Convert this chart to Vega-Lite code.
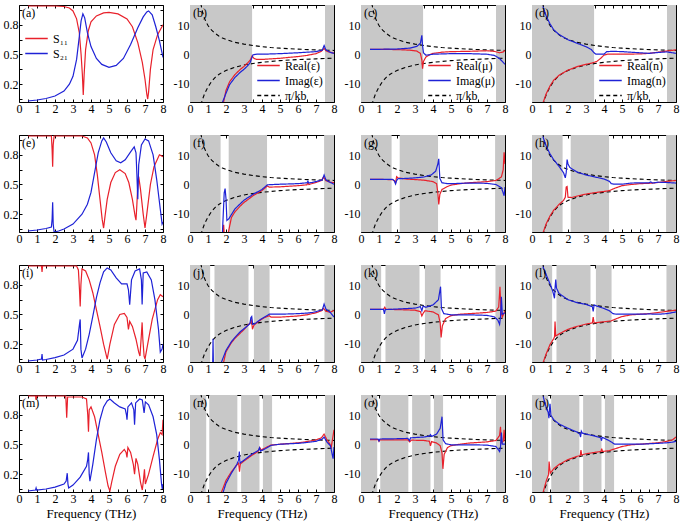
{
"$schema":"https://vega.github.io/schema/vega-lite/v6.json",
"background":"white",
"padding":{"left":2,"top":3,"right":4,"bottom":4},
"datasets":{
"bands":[
{"r":1,"x0":0,"x1":3.45},{"r":1,"x0":7.5,"x1":8},
{"r":2,"x0":0,"x1":1.7},{"r":2,"x0":2.15,"x1":4.28},{"r":2,"x0":7.45,"x1":8},
{"r":3,"x0":0,"x1":1.12},{"r":3,"x0":1.36,"x1":3.25},{"r":3,"x0":3.55,"x1":4.42},{"r":3,"x0":7.47,"x1":8},
{"r":4,"x0":0,"x1":0.9},{"r":4,"x0":1.07,"x1":2.63},{"r":4,"x0":2.84,"x1":3.86},{"r":4,"x0":4.05,"x1":4.56},{"r":4,"x0":7.5,"x1":8}
],
"pk":[
{"k":"P","b":"u","x":0.6,"y":17.5},{"k":"P","b":"u","x":0.7,"y":14.5},{"k":"P","b":"u","x":0.8,"y":12.5},{"k":"P","b":"u","x":0.9,"y":11},{"k":"P","b":"u","x":1,"y":9.9},{"k":"P","b":"u","x":1.2,"y":8.3},{"k":"P","b":"u","x":1.4,"y":7.2},{"k":"P","b":"u","x":1.6,"y":6.3},{"k":"P","b":"u","x":1.8,"y":5.6},{"k":"P","b":"u","x":2,"y":5.1},{"k":"P","b":"u","x":2.5,"y":4.1},{"k":"P","b":"u","x":3,"y":3.5},{"k":"P","b":"u","x":3.5,"y":3},{"k":"P","b":"u","x":4,"y":2.6},{"k":"P","b":"u","x":4.5,"y":2.3},{"k":"P","b":"u","x":5,"y":2.1},{"k":"P","b":"u","x":6,"y":1.75},{"k":"P","b":"u","x":7,"y":1.5},{"k":"P","b":"u","x":8,"y":1.3},
{"k":"P","b":"l","x":0.6,"y":-17.5},{"k":"P","b":"l","x":0.7,"y":-15.5},{"k":"P","b":"l","x":0.8,"y":-13.8},{"k":"P","b":"l","x":0.9,"y":-12.5},{"k":"P","b":"l","x":1,"y":-11.3},{"k":"P","b":"l","x":1.2,"y":-9.4},{"k":"P","b":"l","x":1.4,"y":-8},{"k":"P","b":"l","x":1.6,"y":-7},{"k":"P","b":"l","x":1.8,"y":-6.2},{"k":"P","b":"l","x":2,"y":-5.6},{"k":"P","b":"l","x":2.5,"y":-4.5},{"k":"P","b":"l","x":3,"y":-3.7},{"k":"P","b":"l","x":3.5,"y":-3.2},{"k":"P","b":"l","x":4,"y":-2.8},{"k":"P","b":"l","x":4.5,"y":-2.5},{"k":"P","b":"l","x":5,"y":-2.2},{"k":"P","b":"l","x":6,"y":-1.85},{"k":"P","b":"l","x":7,"y":-1.6},{"k":"P","b":"l","x":8,"y":-1.35}
],
"s":[
{"p":"a","k":"S11","x":0.5,"y":0.99},{"p":"a","k":"S11","x":1,"y":0.99},{"p":"a","k":"S11","x":2,"y":0.99},{"p":"a","k":"S11","x":2.5,"y":0.985},{"p":"a","k":"S11","x":2.8,"y":0.97},{"p":"a","k":"S11","x":3.0,"y":0.94},{"p":"a","k":"S11","x":3.2,"y":0.86},{"p":"a","k":"S11","x":3.35,"y":0.72},{"p":"a","k":"S11","x":3.45,"y":0.5},{"p":"a","k":"S11","x":3.52,"y":0.3},{"p":"a","k":"S11","x":3.57,"y":0.09},{"p":"a","k":"S11","x":3.62,"y":0.3},{"p":"a","k":"S11","x":3.7,"y":0.55},{"p":"a","k":"S11","x":3.85,"y":0.74},{"p":"a","k":"S11","x":4.0,"y":0.83},{"p":"a","k":"S11","x":4.3,"y":0.89},{"p":"a","k":"S11","x":4.7,"y":0.92},{"p":"a","k":"S11","x":5.0,"y":0.925},{"p":"a","k":"S11","x":5.5,"y":0.91},{"p":"a","k":"S11","x":6.0,"y":0.86},{"p":"a","k":"S11","x":6.3,"y":0.78},{"p":"a","k":"S11","x":6.6,"y":0.62},{"p":"a","k":"S11","x":6.85,"y":0.42},{"p":"a","k":"S11","x":7.0,"y":0.25},{"p":"a","k":"S11","x":7.1,"y":0.1},{"p":"a","k":"S11","x":7.15,"y":0.05},{"p":"a","k":"S11","x":7.2,"y":0.12},{"p":"a","k":"S11","x":7.3,"y":0.35},{"p":"a","k":"S11","x":7.45,"y":0.55},{"p":"a","k":"S11","x":7.7,"y":0.7},{"p":"a","k":"S11","x":8,"y":0.8},
{"p":"a","k":"S21","x":0.5,"y":0.03},{"p":"a","k":"S21","x":1,"y":0.04},{"p":"a","k":"S21","x":1.5,"y":0.055},{"p":"a","k":"S21","x":2,"y":0.08},{"p":"a","k":"S21","x":2.5,"y":0.13},{"p":"a","k":"S21","x":2.8,"y":0.2},{"p":"a","k":"S21","x":3.0,"y":0.28},{"p":"a","k":"S21","x":3.2,"y":0.45},{"p":"a","k":"S21","x":3.35,"y":0.68},{"p":"a","k":"S21","x":3.45,"y":0.84},{"p":"a","k":"S21","x":3.55,"y":0.91},{"p":"a","k":"S21","x":3.65,"y":0.87},{"p":"a","k":"S21","x":3.8,"y":0.72},{"p":"a","k":"S21","x":4.0,"y":0.58},{"p":"a","k":"S21","x":4.3,"y":0.46},{"p":"a","k":"S21","x":4.6,"y":0.4},{"p":"a","k":"S21","x":5.0,"y":0.37},{"p":"a","k":"S21","x":5.4,"y":0.39},{"p":"a","k":"S21","x":5.8,"y":0.46},{"p":"a","k":"S21","x":6.2,"y":0.6},{"p":"a","k":"S21","x":6.6,"y":0.77},{"p":"a","k":"S21","x":6.9,"y":0.88},{"p":"a","k":"S21","x":7.1,"y":0.93},{"p":"a","k":"S21","x":7.2,"y":0.94},{"p":"a","k":"S21","x":7.4,"y":0.9},{"p":"a","k":"S21","x":7.6,"y":0.78},{"p":"a","k":"S21","x":7.8,"y":0.64},{"p":"a","k":"S21","x":8,"y":0.47},
{"p":"e","k":"S11","x":0.5,"y":0.99},{"p":"e","k":"S11","x":1.8,"y":0.99},{"p":"e","k":"S11","x":1.84,"y":0.85},{"p":"e","k":"S11","x":1.87,"y":0.68},{"p":"e","k":"S11","x":1.9,"y":0.9},{"p":"e","k":"S11","x":1.95,"y":0.99},{"p":"e","k":"S11","x":3.5,"y":0.99},{"p":"e","k":"S11","x":3.8,"y":0.97},{"p":"e","k":"S11","x":4.0,"y":0.92},{"p":"e","k":"S11","x":4.2,"y":0.8},{"p":"e","k":"S11","x":4.35,"y":0.6},{"p":"e","k":"S11","x":4.5,"y":0.35},{"p":"e","k":"S11","x":4.62,"y":0.15},{"p":"e","k":"S11","x":4.7,"y":0.06},{"p":"e","k":"S11","x":4.78,"y":0.18},{"p":"e","k":"S11","x":4.9,"y":0.35},{"p":"e","k":"S11","x":5.1,"y":0.52},{"p":"e","k":"S11","x":5.35,"y":0.62},{"p":"e","k":"S11","x":5.6,"y":0.65},{"p":"e","k":"S11","x":5.9,"y":0.61},{"p":"e","k":"S11","x":6.1,"y":0.52},{"p":"e","k":"S11","x":6.3,"y":0.35},{"p":"e","k":"S11","x":6.45,"y":0.18},{"p":"e","k":"S11","x":6.5,"y":0.14},{"p":"e","k":"S11","x":6.55,"y":0.3},{"p":"e","k":"S11","x":6.6,"y":0.5},{"p":"e","k":"S11","x":6.65,"y":0.58},{"p":"e","k":"S11","x":6.75,"y":0.45},{"p":"e","k":"S11","x":6.9,"y":0.2},{"p":"e","k":"S11","x":7.0,"y":0.06},{"p":"e","k":"S11","x":7.1,"y":0.2},{"p":"e","k":"S11","x":7.3,"y":0.5},{"p":"e","k":"S11","x":7.5,"y":0.68},{"p":"e","k":"S11","x":7.8,"y":0.8},{"p":"e","k":"S11","x":8,"y":0.78},
{"p":"e","k":"S21","x":0.5,"y":0.03},{"p":"e","k":"S21","x":1,"y":0.04},{"p":"e","k":"S21","x":1.5,"y":0.055},{"p":"e","k":"S21","x":1.8,"y":0.07},{"p":"e","k":"S21","x":1.84,"y":0.15},{"p":"e","k":"S21","x":1.87,"y":0.32},{"p":"e","k":"S21","x":1.9,"y":0.1},{"p":"e","k":"S21","x":1.95,"y":0.02},{"p":"e","k":"S21","x":2.2,"y":0.03},{"p":"e","k":"S21","x":2.5,"y":0.05},{"p":"e","k":"S21","x":3,"y":0.1},{"p":"e","k":"S21","x":3.5,"y":0.2},{"p":"e","k":"S21","x":3.8,"y":0.3},{"p":"e","k":"S21","x":4.0,"y":0.42},{"p":"e","k":"S21","x":4.2,"y":0.62},{"p":"e","k":"S21","x":4.4,"y":0.82},{"p":"e","k":"S21","x":4.6,"y":0.94},{"p":"e","k":"S21","x":4.7,"y":0.97},{"p":"e","k":"S21","x":4.85,"y":0.93},{"p":"e","k":"S21","x":5.1,"y":0.82},{"p":"e","k":"S21","x":5.4,"y":0.74},{"p":"e","k":"S21","x":5.65,"y":0.72},{"p":"e","k":"S21","x":5.9,"y":0.75},{"p":"e","k":"S21","x":6.2,"y":0.83},{"p":"e","k":"S21","x":6.4,"y":0.88},{"p":"e","k":"S21","x":6.5,"y":0.82},{"p":"e","k":"S21","x":6.55,"y":0.6},{"p":"e","k":"S21","x":6.6,"y":0.35},{"p":"e","k":"S21","x":6.65,"y":0.7},{"p":"e","k":"S21","x":6.8,"y":0.9},{"p":"e","k":"S21","x":7.0,"y":0.96},{"p":"e","k":"S21","x":7.2,"y":0.94},{"p":"e","k":"S21","x":7.45,"y":0.8},{"p":"e","k":"S21","x":7.65,"y":0.55},{"p":"e","k":"S21","x":7.85,"y":0.25},{"p":"e","k":"S21","x":7.95,"y":0.1},{"p":"e","k":"S21","x":8,"y":0.12},
{"p":"i","k":"S11","x":0.5,"y":0.99},{"p":"i","k":"S11","x":1.25,"y":0.99},{"p":"i","k":"S11","x":1.28,"y":0.93},{"p":"i","k":"S11","x":1.31,"y":0.99},{"p":"i","k":"S11","x":3.2,"y":0.99},{"p":"i","k":"S11","x":3.3,"y":0.95},{"p":"i","k":"S11","x":3.36,"y":0.75},{"p":"i","k":"S11","x":3.4,"y":0.58},{"p":"i","k":"S11","x":3.44,"y":0.8},{"p":"i","k":"S11","x":3.5,"y":0.96},{"p":"i","k":"S11","x":3.7,"y":0.94},{"p":"i","k":"S11","x":3.9,"y":0.85},{"p":"i","k":"S11","x":4.1,"y":0.72},{"p":"i","k":"S11","x":4.3,"y":0.55},{"p":"i","k":"S11","x":4.5,"y":0.38},{"p":"i","k":"S11","x":4.7,"y":0.2},{"p":"i","k":"S11","x":4.9,"y":0.05},{"p":"i","k":"S11","x":5.05,"y":0.2},{"p":"i","k":"S11","x":5.3,"y":0.4},{"p":"i","k":"S11","x":5.6,"y":0.5},{"p":"i","k":"S11","x":5.85,"y":0.51},{"p":"i","k":"S11","x":6.0,"y":0.47},{"p":"i","k":"S11","x":6.08,"y":0.35},{"p":"i","k":"S11","x":6.15,"y":0.43},{"p":"i","k":"S11","x":6.3,"y":0.38},{"p":"i","k":"S11","x":6.5,"y":0.25},{"p":"i","k":"S11","x":6.65,"y":0.12},{"p":"i","k":"S11","x":6.72,"y":0.08},{"p":"i","k":"S11","x":6.8,"y":0.3},{"p":"i","k":"S11","x":6.84,"y":0.42},{"p":"i","k":"S11","x":6.88,"y":0.25},{"p":"i","k":"S11","x":6.95,"y":0.08},{"p":"i","k":"S11","x":7.0,"y":0.05},{"p":"i","k":"S11","x":7.15,"y":0.2},{"p":"i","k":"S11","x":7.4,"y":0.45},{"p":"i","k":"S11","x":7.7,"y":0.65},{"p":"i","k":"S11","x":7.85,"y":0.7},{"p":"i","k":"S11","x":8,"y":0.68},
{"p":"i","k":"S21","x":0.5,"y":0.03},{"p":"i","k":"S21","x":1.0,"y":0.04},{"p":"i","k":"S21","x":1.25,"y":0.05},{"p":"i","k":"S21","x":1.28,"y":0.1},{"p":"i","k":"S21","x":1.31,"y":0.04},{"p":"i","k":"S21","x":1.5,"y":0.045},{"p":"i","k":"S21","x":2,"y":0.065},{"p":"i","k":"S21","x":2.5,"y":0.09},{"p":"i","k":"S21","x":3,"y":0.15},{"p":"i","k":"S21","x":3.25,"y":0.24},{"p":"i","k":"S21","x":3.36,"y":0.4},{"p":"i","k":"S21","x":3.4,"y":0.45},{"p":"i","k":"S21","x":3.44,"y":0.15},{"p":"i","k":"S21","x":3.5,"y":0.06},{"p":"i","k":"S21","x":3.7,"y":0.15},{"p":"i","k":"S21","x":3.9,"y":0.3},{"p":"i","k":"S21","x":4.1,"y":0.48},{"p":"i","k":"S21","x":4.3,"y":0.67},{"p":"i","k":"S21","x":4.5,"y":0.82},{"p":"i","k":"S21","x":4.7,"y":0.93},{"p":"i","k":"S21","x":4.9,"y":0.97},{"p":"i","k":"S21","x":5.1,"y":0.95},{"p":"i","k":"S21","x":5.4,"y":0.87},{"p":"i","k":"S21","x":5.7,"y":0.81},{"p":"i","k":"S21","x":6.0,"y":0.81},{"p":"i","k":"S21","x":6.08,"y":0.75},{"p":"i","k":"S21","x":6.15,"y":0.6},{"p":"i","k":"S21","x":6.25,"y":0.85},{"p":"i","k":"S21","x":6.45,"y":0.94},{"p":"i","k":"S21","x":6.7,"y":0.96},{"p":"i","k":"S21","x":6.8,"y":0.85},{"p":"i","k":"S21","x":6.84,"y":0.6},{"p":"i","k":"S21","x":6.9,"y":0.92},{"p":"i","k":"S21","x":7.1,"y":0.93},{"p":"i","k":"S21","x":7.35,"y":0.85},{"p":"i","k":"S21","x":7.55,"y":0.65},{"p":"i","k":"S21","x":7.75,"y":0.35},{"p":"i","k":"S21","x":7.85,"y":0.12},{"p":"i","k":"S21","x":7.95,"y":0.15},{"p":"i","k":"S21","x":8,"y":0.2},
{"p":"m","k":"S11","x":0.5,"y":0.99},{"p":"m","k":"S11","x":0.92,"y":0.99},{"p":"m","k":"S11","x":0.95,"y":0.95},{"p":"m","k":"S11","x":0.98,"y":0.99},{"p":"m","k":"S11","x":2.6,"y":0.99},{"p":"m","k":"S11","x":2.65,"y":0.77},{"p":"m","k":"S11","x":2.7,"y":0.98},{"p":"m","k":"S11","x":3.5,"y":0.98},{"p":"m","k":"S11","x":3.75,"y":0.96},{"p":"m","k":"S11","x":3.82,"y":0.8},{"p":"m","k":"S11","x":3.86,"y":0.63},{"p":"m","k":"S11","x":3.9,"y":0.85},{"p":"m","k":"S11","x":4.0,"y":0.88},{"p":"m","k":"S11","x":4.2,"y":0.78},{"p":"m","k":"S11","x":4.4,"y":0.6},{"p":"m","k":"S11","x":4.6,"y":0.42},{"p":"m","k":"S11","x":4.8,"y":0.22},{"p":"m","k":"S11","x":4.95,"y":0.08},{"p":"m","k":"S11","x":5.05,"y":0.03},{"p":"m","k":"S11","x":5.15,"y":0.12},{"p":"m","k":"S11","x":5.35,"y":0.28},{"p":"m","k":"S11","x":5.6,"y":0.4},{"p":"m","k":"S11","x":5.85,"y":0.45},{"p":"m","k":"S11","x":5.95,"y":0.42},{"p":"m","k":"S11","x":6.0,"y":0.37},{"p":"m","k":"S11","x":6.05,"y":0.47},{"p":"m","k":"S11","x":6.2,"y":0.42},{"p":"m","k":"S11","x":6.35,"y":0.3},{"p":"m","k":"S11","x":6.42,"y":0.2},{"p":"m","k":"S11","x":6.5,"y":0.36},{"p":"m","k":"S11","x":6.6,"y":0.3},{"p":"m","k":"S11","x":6.75,"y":0.12},{"p":"m","k":"S11","x":6.85,"y":0.04},{"p":"m","k":"S11","x":6.92,"y":0.15},{"p":"m","k":"S11","x":6.97,"y":0.25},{"p":"m","k":"S11","x":7.02,"y":0.1},{"p":"m","k":"S11","x":7.2,"y":0.2},{"p":"m","k":"S11","x":7.45,"y":0.38},{"p":"m","k":"S11","x":7.7,"y":0.55},{"p":"m","k":"S11","x":7.85,"y":0.62},{"p":"m","k":"S11","x":7.95,"y":0.6},{"p":"m","k":"S11","x":8,"y":0.75},
{"p":"m","k":"S21","x":0.5,"y":0.03},{"p":"m","k":"S21","x":0.92,"y":0.04},{"p":"m","k":"S21","x":0.95,"y":0.06},{"p":"m","k":"S21","x":0.98,"y":0.04},{"p":"m","k":"S21","x":1.5,"y":0.05},{"p":"m","k":"S21","x":2.0,"y":0.07},{"p":"m","k":"S21","x":2.5,"y":0.1},{"p":"m","k":"S21","x":2.62,"y":0.13},{"p":"m","k":"S21","x":2.68,"y":0.21},{"p":"m","k":"S21","x":2.72,"y":0.1},{"p":"m","k":"S21","x":2.76,"y":0.06},{"p":"m","k":"S21","x":3.0,"y":0.09},{"p":"m","k":"S21","x":3.4,"y":0.17},{"p":"m","k":"S21","x":3.75,"y":0.28},{"p":"m","k":"S21","x":3.82,"y":0.35},{"p":"m","k":"S21","x":3.86,"y":0.42},{"p":"m","k":"S21","x":3.9,"y":0.2},{"p":"m","k":"S21","x":3.94,"y":0.13},{"p":"m","k":"S21","x":4.1,"y":0.3},{"p":"m","k":"S21","x":4.3,"y":0.55},{"p":"m","k":"S21","x":4.5,"y":0.75},{"p":"m","k":"S21","x":4.7,"y":0.88},{"p":"m","k":"S21","x":4.9,"y":0.94},{"p":"m","k":"S21","x":5.05,"y":0.96},{"p":"m","k":"S21","x":5.3,"y":0.92},{"p":"m","k":"S21","x":5.6,"y":0.88},{"p":"m","k":"S21","x":5.9,"y":0.86},{"p":"m","k":"S21","x":5.97,"y":0.8},{"p":"m","k":"S21","x":6.0,"y":0.75},{"p":"m","k":"S21","x":6.05,"y":0.88},{"p":"m","k":"S21","x":6.25,"y":0.92},{"p":"m","k":"S21","x":6.38,"y":0.85},{"p":"m","k":"S21","x":6.42,"y":0.7},{"p":"m","k":"S21","x":6.48,"y":0.92},{"p":"m","k":"S21","x":6.7,"y":0.96},{"p":"m","k":"S21","x":6.85,"y":0.95},{"p":"m","k":"S21","x":6.95,"y":0.82},{"p":"m","k":"S21","x":7.02,"y":0.93},{"p":"m","k":"S21","x":7.2,"y":0.9},{"p":"m","k":"S21","x":7.45,"y":0.78},{"p":"m","k":"S21","x":7.65,"y":0.6},{"p":"m","k":"S21","x":7.8,"y":0.35},{"p":"m","k":"S21","x":7.92,"y":0.1},{"p":"m","k":"S21","x":7.96,"y":0.05},{"p":"m","k":"S21","x":8,"y":0.1}
],
"m":[
{"p":"b","k":"R","x":1.85,"y":-17},{"p":"b","k":"R","x":2.0,"y":-12.5},{"p":"b","k":"R","x":2.2,"y":-9.5},{"p":"b","k":"R","x":2.5,"y":-7},{"p":"b","k":"R","x":2.8,"y":-5.2},{"p":"b","k":"R","x":3.0,"y":-4.2},{"p":"b","k":"R","x":3.2,"y":-3},{"p":"b","k":"R","x":3.35,"y":-2},{"p":"b","k":"R","x":3.45,"y":-0.6},{"p":"b","k":"R","x":3.55,"y":-1.4},{"p":"b","k":"R","x":3.7,"y":-1.8},{"p":"b","k":"R","x":4.0,"y":-1.8},{"p":"b","k":"R","x":4.5,"y":-1.6},{"p":"b","k":"R","x":5,"y":-1.4},{"p":"b","k":"R","x":6,"y":-0.8},{"p":"b","k":"R","x":6.5,"y":-0.4},{"p":"b","k":"R","x":7,"y":0.2},{"p":"b","k":"R","x":7.3,"y":1},{"p":"b","k":"R","x":7.45,"y":2},{"p":"b","k":"R","x":7.55,"y":1.2},{"p":"b","k":"R","x":7.7,"y":0.8},{"p":"b","k":"R","x":8,"y":0.4},
{"p":"b","k":"I","x":1.78,"y":-17},{"p":"b","k":"I","x":2.0,"y":-13.5},{"p":"b","k":"I","x":2.2,"y":-10.5},{"p":"b","k":"I","x":2.5,"y":-8},{"p":"b","k":"I","x":2.8,"y":-6.2},{"p":"b","k":"I","x":3.0,"y":-5.2},{"p":"b","k":"I","x":3.2,"y":-4},{"p":"b","k":"I","x":3.35,"y":-2.8},{"p":"b","k":"I","x":3.42,"y":-1.5},{"p":"b","k":"I","x":3.5,"y":-0.2},{"p":"b","k":"I","x":3.7,"y":0},{"p":"b","k":"I","x":4.0,"y":0},{"p":"b","k":"I","x":5,"y":0.2},{"p":"b","k":"I","x":6,"y":0.5},{"p":"b","k":"I","x":7,"y":0.9},{"p":"b","k":"I","x":7.35,"y":1.4},{"p":"b","k":"I","x":7.45,"y":3},{"p":"b","k":"I","x":7.55,"y":1.5},{"p":"b","k":"I","x":7.8,"y":0.6},{"p":"b","k":"I","x":8,"y":0.3},
{"p":"c","k":"R","x":0.5,"y":1.7},{"p":"c","k":"R","x":1,"y":1.7},{"p":"c","k":"R","x":2,"y":1.6},{"p":"c","k":"R","x":2.7,"y":1.4},{"p":"c","k":"R","x":3.1,"y":1.1},{"p":"c","k":"R","x":3.3,"y":0.3},{"p":"c","k":"R","x":3.38,"y":-2},{"p":"c","k":"R","x":3.42,"y":-5},{"p":"c","k":"R","x":3.47,"y":-2.5},{"p":"c","k":"R","x":3.6,"y":-1},{"p":"c","k":"R","x":3.8,"y":-0.2},{"p":"c","k":"R","x":4.0,"y":0.3},{"p":"c","k":"R","x":4.5,"y":0.7},{"p":"c","k":"R","x":5,"y":0.9},{"p":"c","k":"R","x":6,"y":1.0},{"p":"c","k":"R","x":7,"y":1.2},{"p":"c","k":"R","x":7.4,"y":1.0},{"p":"c","k":"R","x":7.7,"y":0.5},{"p":"c","k":"R","x":7.9,"y":0.8},{"p":"c","k":"R","x":8,"y":1.3},
{"p":"c","k":"I","x":0.5,"y":1.7},{"p":"c","k":"I","x":1,"y":1.7},{"p":"c","k":"I","x":2,"y":1.8},{"p":"c","k":"I","x":2.7,"y":2.1},{"p":"c","k":"I","x":3.1,"y":2.7},{"p":"c","k":"I","x":3.3,"y":3.8},{"p":"c","k":"I","x":3.38,"y":6.5},{"p":"c","k":"I","x":3.42,"y":3},{"p":"c","k":"I","x":3.47,"y":0.5},{"p":"c","k":"I","x":3.6,"y":-0.3},{"p":"c","k":"I","x":3.8,"y":-0.2},{"p":"c","k":"I","x":4.0,"y":0},{"p":"c","k":"I","x":5,"y":0.2},{"p":"c","k":"I","x":6,"y":0.2},{"p":"c","k":"I","x":7,"y":0},{"p":"c","k":"I","x":7.4,"y":-0.4},{"p":"c","k":"I","x":7.7,"y":-1.5},{"p":"c","k":"I","x":8,"y":-3.5},
{"p":"d","k":"R","x":0.6,"y":-17},{"p":"d","k":"R","x":0.8,"y":-13.5},{"p":"d","k":"R","x":1,"y":-11},{"p":"d","k":"R","x":1.2,"y":-9},{"p":"d","k":"R","x":1.5,"y":-7.3},{"p":"d","k":"R","x":2,"y":-5.5},{"p":"d","k":"R","x":2.5,"y":-4.3},{"p":"d","k":"R","x":3,"y":-3.5},{"p":"d","k":"R","x":3.35,"y":-3},{"p":"d","k":"R","x":3.6,"y":-2.5},{"p":"d","k":"R","x":3.8,"y":-1.5},{"p":"d","k":"R","x":4.0,"y":-0.3},{"p":"d","k":"R","x":4.2,"y":0},{"p":"d","k":"R","x":5,"y":0},{"p":"d","k":"R","x":6,"y":0.1},{"p":"d","k":"R","x":6.5,"y":0.3},{"p":"d","k":"R","x":7,"y":0.7},{"p":"d","k":"R","x":8,"y":1.5},
{"p":"d","k":"I","x":0.6,"y":16.5},{"p":"d","k":"I","x":0.8,"y":13},{"p":"d","k":"I","x":1,"y":10.5},{"p":"d","k":"I","x":1.2,"y":8.5},{"p":"d","k":"I","x":1.5,"y":6.8},{"p":"d","k":"I","x":2,"y":5},{"p":"d","k":"I","x":2.5,"y":3.8},{"p":"d","k":"I","x":3,"y":2.6},{"p":"d","k":"I","x":3.3,"y":1.6},{"p":"d","k":"I","x":3.45,"y":0.5},{"p":"d","k":"I","x":3.55,"y":0},{"p":"d","k":"I","x":4.0,"y":0},{"p":"d","k":"I","x":4.15,"y":0.9},{"p":"d","k":"I","x":4.5,"y":1},{"p":"d","k":"I","x":5,"y":0.9},{"p":"d","k":"I","x":6,"y":0.5},{"p":"d","k":"I","x":6.5,"y":0.3},{"p":"d","k":"I","x":7,"y":0.6},{"p":"d","k":"I","x":7.5,"y":0.8},{"p":"d","k":"I","x":8,"y":0.3},
{"p":"f","k":"R","x":1.84,"y":-17},{"p":"f","k":"R","x":1.87,"y":-14},{"p":"f","k":"R","x":1.9,"y":-17},{"p":"f","k":"R","x":2.12,"y":-17},{"p":"f","k":"R","x":2.3,"y":-11.5},{"p":"f","k":"R","x":2.5,"y":-9.5},{"p":"f","k":"R","x":2.8,"y":-7.5},{"p":"f","k":"R","x":3.0,"y":-6.3},{"p":"f","k":"R","x":3.5,"y":-4},{"p":"f","k":"R","x":4.0,"y":-2.2},{"p":"f","k":"R","x":4.3,"y":-0.6},{"p":"f","k":"R","x":4.4,"y":-1},{"p":"f","k":"R","x":5,"y":-0.9},{"p":"f","k":"R","x":6,"y":-0.5},{"p":"f","k":"R","x":6.5,"y":-0.2},{"p":"f","k":"R","x":6.55,"y":0.5},{"p":"f","k":"R","x":6.6,"y":-0.1},{"p":"f","k":"R","x":7,"y":0.6},{"p":"f","k":"R","x":7.3,"y":1.3},{"p":"f","k":"R","x":7.42,"y":2.5},{"p":"f","k":"R","x":7.55,"y":1.2},{"p":"f","k":"R","x":7.8,"y":0.7},{"p":"f","k":"R","x":8,"y":0.5},
{"p":"f","k":"I","x":1.8,"y":-17},{"p":"f","k":"I","x":1.85,"y":-10},{"p":"f","k":"I","x":1.9,"y":-3},{"p":"f","k":"I","x":1.95,"y":-1.5},{"p":"f","k":"I","x":2.0,"y":-5},{"p":"f","k":"I","x":2.05,"y":-12.5},{"p":"f","k":"I","x":2.15,"y":-12},{"p":"f","k":"I","x":2.5,"y":-8.5},{"p":"f","k":"I","x":3.0,"y":-5.5},{"p":"f","k":"I","x":3.5,"y":-3.5},{"p":"f","k":"I","x":4.0,"y":-1.8},{"p":"f","k":"I","x":4.3,"y":-0.2},{"p":"f","k":"I","x":5,"y":0},{"p":"f","k":"I","x":6,"y":0.2},{"p":"f","k":"I","x":6.5,"y":0.5},{"p":"f","k":"I","x":6.55,"y":1},{"p":"f","k":"I","x":6.6,"y":0.4},{"p":"f","k":"I","x":7,"y":0.9},{"p":"f","k":"I","x":7.35,"y":1.5},{"p":"f","k":"I","x":7.45,"y":3.2},{"p":"f","k":"I","x":7.55,"y":1.5},{"p":"f","k":"I","x":7.8,"y":0.6},{"p":"f","k":"I","x":8,"y":0},
{"p":"g","k":"R","x":0.5,"y":1.7},{"p":"g","k":"R","x":1.75,"y":1.6},{"p":"g","k":"R","x":1.85,"y":1.2},{"p":"g","k":"R","x":1.92,"y":0.5},{"p":"g","k":"R","x":1.98,"y":2.6},{"p":"g","k":"R","x":2.05,"y":2.2},{"p":"g","k":"R","x":2.5,"y":1.8},{"p":"g","k":"R","x":3,"y":1.6},{"p":"g","k":"R","x":3.5,"y":1.4},{"p":"g","k":"R","x":4,"y":0.9},{"p":"g","k":"R","x":4.2,"y":0.2},{"p":"g","k":"R","x":4.27,"y":-3},{"p":"g","k":"R","x":4.32,"y":-7},{"p":"g","k":"R","x":4.38,"y":-3.5},{"p":"g","k":"R","x":4.5,"y":-1.8},{"p":"g","k":"R","x":4.8,"y":-0.8},{"p":"g","k":"R","x":5,"y":-0.3},{"p":"g","k":"R","x":5.5,"y":0.2},{"p":"g","k":"R","x":6,"y":0.5},{"p":"g","k":"R","x":7,"y":0.9},{"p":"g","k":"R","x":7.5,"y":1.3},{"p":"g","k":"R","x":7.8,"y":2.5},{"p":"g","k":"R","x":7.9,"y":5},{"p":"g","k":"R","x":7.95,"y":11},{"p":"g","k":"R","x":8,"y":7},
{"p":"g","k":"I","x":0.5,"y":1.7},{"p":"g","k":"I","x":1.75,"y":1.7},{"p":"g","k":"I","x":1.85,"y":1.2},{"p":"g","k":"I","x":1.92,"y":0.1},{"p":"g","k":"I","x":1.98,"y":1.3},{"p":"g","k":"I","x":2.05,"y":1.9},{"p":"g","k":"I","x":2.5,"y":2},{"p":"g","k":"I","x":3,"y":2.2},{"p":"g","k":"I","x":3.5,"y":2.5},{"p":"g","k":"I","x":3.9,"y":3.2},{"p":"g","k":"I","x":4.15,"y":4.5},{"p":"g","k":"I","x":4.27,"y":7},{"p":"g","k":"I","x":4.32,"y":8.8},{"p":"g","k":"I","x":4.38,"y":2},{"p":"g","k":"I","x":4.5,"y":0.5},{"p":"g","k":"I","x":4.8,"y":0.2},{"p":"g","k":"I","x":5,"y":0.2},{"p":"g","k":"I","x":6,"y":0.4},{"p":"g","k":"I","x":6.5,"y":0.4},{"p":"g","k":"I","x":7,"y":0.3},{"p":"g","k":"I","x":7.5,"y":-0.1},{"p":"g","k":"I","x":7.8,"y":-1.2},{"p":"g","k":"I","x":7.9,"y":-3},{"p":"g","k":"I","x":7.95,"y":-4},{"p":"g","k":"I","x":8,"y":-1},
{"p":"h","k":"R","x":0.6,"y":-17},{"p":"h","k":"R","x":0.8,"y":-13.5},{"p":"h","k":"R","x":1,"y":-11},{"p":"h","k":"R","x":1.2,"y":-9},{"p":"h","k":"R","x":1.5,"y":-7},{"p":"h","k":"R","x":1.75,"y":-5.6},{"p":"h","k":"R","x":1.85,"y":-4.5},{"p":"h","k":"R","x":1.9,"y":-1},{"p":"h","k":"R","x":1.95,"y":-0.8},{"p":"h","k":"R","x":2.0,"y":-4.5},{"p":"h","k":"R","x":2.2,"y":-4.6},{"p":"h","k":"R","x":2.5,"y":-4.1},{"p":"h","k":"R","x":3,"y":-3.4},{"p":"h","k":"R","x":3.5,"y":-2.9},{"p":"h","k":"R","x":4,"y":-2.5},{"p":"h","k":"R","x":4.3,"y":-2.2},{"p":"h","k":"R","x":4.6,"y":-1.4},{"p":"h","k":"R","x":5,"y":-0.5},{"p":"h","k":"R","x":5.5,"y":-0.1},{"p":"h","k":"R","x":6,"y":0.2},{"p":"h","k":"R","x":6.5,"y":0.3},{"p":"h","k":"R","x":7,"y":0.6},{"p":"h","k":"R","x":7.5,"y":1},{"p":"h","k":"R","x":8,"y":1.3},
{"p":"h","k":"I","x":0.6,"y":16.5},{"p":"h","k":"I","x":0.8,"y":13},{"p":"h","k":"I","x":1,"y":10.5},{"p":"h","k":"I","x":1.2,"y":8.5},{"p":"h","k":"I","x":1.5,"y":6.2},{"p":"h","k":"I","x":1.75,"y":4},{"p":"h","k":"I","x":1.85,"y":2.2},{"p":"h","k":"I","x":1.9,"y":4},{"p":"h","k":"I","x":1.95,"y":8.5},{"p":"h","k":"I","x":2.0,"y":7},{"p":"h","k":"I","x":2.1,"y":5.8},{"p":"h","k":"I","x":2.5,"y":4.2},{"p":"h","k":"I","x":3,"y":3.2},{"p":"h","k":"I","x":3.5,"y":2.5},{"p":"h","k":"I","x":4,"y":1.8},{"p":"h","k":"I","x":4.3,"y":1},{"p":"h","k":"I","x":4.4,"y":0.2},{"p":"h","k":"I","x":4.6,"y":0},{"p":"h","k":"I","x":5,"y":0},{"p":"h","k":"I","x":5.5,"y":0.4},{"p":"h","k":"I","x":6,"y":0.5},{"p":"h","k":"I","x":6.5,"y":0.5},{"p":"h","k":"I","x":6.6,"y":0.8},{"p":"h","k":"I","x":6.7,"y":0.4},{"p":"h","k":"I","x":7,"y":0.7},{"p":"h","k":"I","x":7.5,"y":0.6},{"p":"h","k":"I","x":8,"y":0.4},
{"p":"j","k":"R","x":1.85,"y":-17},{"p":"j","k":"R","x":2.0,"y":-13},{"p":"j","k":"R","x":2.3,"y":-9.8},{"p":"j","k":"R","x":2.5,"y":-8.3},{"p":"j","k":"R","x":2.8,"y":-6.5},{"p":"j","k":"R","x":3.0,"y":-5.3},{"p":"j","k":"R","x":3.2,"y":-3.8},{"p":"j","k":"R","x":3.35,"y":-3},{"p":"j","k":"R","x":3.42,"y":-2.2},{"p":"j","k":"R","x":3.47,"y":-5.2},{"p":"j","k":"R","x":3.55,"y":-3.8},{"p":"j","k":"R","x":3.8,"y":-2.5},{"p":"j","k":"R","x":4.1,"y":-1.3},{"p":"j","k":"R","x":4.4,"y":-0.5},{"p":"j","k":"R","x":4.5,"y":-1},{"p":"j","k":"R","x":5,"y":-1},{"p":"j","k":"R","x":6,"y":-0.6},{"p":"j","k":"R","x":6.5,"y":-0.2},{"p":"j","k":"R","x":7,"y":0.5},{"p":"j","k":"R","x":7.3,"y":1.2},{"p":"j","k":"R","x":7.42,"y":2},{"p":"j","k":"R","x":7.55,"y":1},{"p":"j","k":"R","x":7.8,"y":0.7},{"p":"j","k":"R","x":8,"y":1.3},
{"p":"j","k":"I","x":1.26,"y":-17},{"p":"j","k":"I","x":1.28,"y":-8.5},{"p":"j","k":"I","x":1.3,"y":-17},{"p":"j","k":"I","x":1.72,"y":-17},{"p":"j","k":"I","x":2.0,"y":-12.5},{"p":"j","k":"I","x":2.3,"y":-9.5},{"p":"j","k":"I","x":2.5,"y":-8},{"p":"j","k":"I","x":2.8,"y":-6},{"p":"j","k":"I","x":3.0,"y":-5},{"p":"j","k":"I","x":3.2,"y":-4},{"p":"j","k":"I","x":3.33,"y":-3.2},{"p":"j","k":"I","x":3.38,"y":-1.2},{"p":"j","k":"I","x":3.43,"y":-0.8},{"p":"j","k":"I","x":3.48,"y":-3.5},{"p":"j","k":"I","x":3.6,"y":-3.3},{"p":"j","k":"I","x":3.8,"y":-2.3},{"p":"j","k":"I","x":4.1,"y":-1.1},{"p":"j","k":"I","x":4.4,"y":0},{"p":"j","k":"I","x":5,"y":0},{"p":"j","k":"I","x":6,"y":0.2},{"p":"j","k":"I","x":6.5,"y":0.4},{"p":"j","k":"I","x":6.8,"y":0.6},{"p":"j","k":"I","x":7,"y":0.9},{"p":"j","k":"I","x":7.35,"y":1.5},{"p":"j","k":"I","x":7.45,"y":3.5},{"p":"j","k":"I","x":7.55,"y":1.8},{"p":"j","k":"I","x":7.8,"y":0.6},{"p":"j","k":"I","x":8,"y":-1},
{"p":"k","k":"R","x":0.5,"y":1.7},{"p":"k","k":"R","x":1.25,"y":1.7},{"p":"k","k":"R","x":1.32,"y":2.4},{"p":"k","k":"R","x":1.38,"y":1.7},{"p":"k","k":"R","x":2,"y":1.6},{"p":"k","k":"R","x":3,"y":1.4},{"p":"k","k":"R","x":3.3,"y":0.9},{"p":"k","k":"R","x":3.38,"y":-0.6},{"p":"k","k":"R","x":3.45,"y":0.3},{"p":"k","k":"R","x":3.55,"y":1.2},{"p":"k","k":"R","x":4,"y":0.8},{"p":"k","k":"R","x":4.3,"y":-0.2},{"p":"k","k":"R","x":4.4,"y":-3},{"p":"k","k":"R","x":4.45,"y":-8},{"p":"k","k":"R","x":4.52,"y":-4},{"p":"k","k":"R","x":4.7,"y":-1.5},{"p":"k","k":"R","x":5,"y":-0.5},{"p":"k","k":"R","x":5.5,"y":0},{"p":"k","k":"R","x":6,"y":0.2},{"p":"k","k":"R","x":6.5,"y":0.4},{"p":"k","k":"R","x":7,"y":0.6},{"p":"k","k":"R","x":7.5,"y":1.1},{"p":"k","k":"R","x":7.65,"y":2.5},{"p":"k","k":"R","x":7.72,"y":9.5},{"p":"k","k":"R","x":7.78,"y":1},{"p":"k","k":"R","x":7.85,"y":-1},{"p":"k","k":"R","x":8,"y":1.2},
{"p":"k","k":"I","x":0.5,"y":1.7},{"p":"k","k":"I","x":1.25,"y":1.7},{"p":"k","k":"I","x":1.3,"y":0.1},{"p":"k","k":"I","x":1.35,"y":1.6},{"p":"k","k":"I","x":2,"y":1.8},{"p":"k","k":"I","x":3,"y":2.1},{"p":"k","k":"I","x":3.3,"y":2.6},{"p":"k","k":"I","x":3.38,"y":1.2},{"p":"k","k":"I","x":3.45,"y":2.8},{"p":"k","k":"I","x":3.6,"y":2.4},{"p":"k","k":"I","x":4,"y":3.2},{"p":"k","k":"I","x":4.3,"y":5},{"p":"k","k":"I","x":4.42,"y":9.5},{"p":"k","k":"I","x":4.47,"y":2},{"p":"k","k":"I","x":4.6,"y":0.2},{"p":"k","k":"I","x":5,"y":-0.2},{"p":"k","k":"I","x":5.5,"y":-0.2},{"p":"k","k":"I","x":6,"y":-0.2},{"p":"k","k":"I","x":6.5,"y":-0.3},{"p":"k","k":"I","x":7,"y":-0.4},{"p":"k","k":"I","x":7.4,"y":-0.9},{"p":"k","k":"I","x":7.6,"y":-2},{"p":"k","k":"I","x":7.7,"y":-3.5},{"p":"k","k":"I","x":7.75,"y":-1},{"p":"k","k":"I","x":7.8,"y":6},{"p":"k","k":"I","x":7.85,"y":0},{"p":"k","k":"I","x":8,"y":0.5},
{"p":"l","k":"R","x":0.6,"y":-17},{"p":"l","k":"R","x":0.8,"y":-13.5},{"p":"l","k":"R","x":1,"y":-10.5},{"p":"l","k":"R","x":1.2,"y":-8.5},{"p":"l","k":"R","x":1.25,"y":-7.8},{"p":"l","k":"R","x":1.28,"y":-2.5},{"p":"l","k":"R","x":1.32,"y":-7.5},{"p":"l","k":"R","x":1.5,"y":-6.8},{"p":"l","k":"R","x":2,"y":-5.2},{"p":"l","k":"R","x":2.5,"y":-4.2},{"p":"l","k":"R","x":3,"y":-3.4},{"p":"l","k":"R","x":3.35,"y":-3},{"p":"l","k":"R","x":3.4,"y":-1},{"p":"l","k":"R","x":3.45,"y":-3},{"p":"l","k":"R","x":4,"y":-2.6},{"p":"l","k":"R","x":4.4,"y":-2.3},{"p":"l","k":"R","x":4.7,"y":-1.5},{"p":"l","k":"R","x":5,"y":-0.8},{"p":"l","k":"R","x":5.5,"y":-0.2},{"p":"l","k":"R","x":6,"y":0},{"p":"l","k":"R","x":6.5,"y":0.2},{"p":"l","k":"R","x":7,"y":0.6},{"p":"l","k":"R","x":7.5,"y":1},{"p":"l","k":"R","x":8,"y":1.4},
{"p":"l","k":"I","x":0.6,"y":16.5},{"p":"l","k":"I","x":0.8,"y":13.5},{"p":"l","k":"I","x":1,"y":10.5},{"p":"l","k":"I","x":1.15,"y":8},{"p":"l","k":"I","x":1.25,"y":5.5},{"p":"l","k":"I","x":1.28,"y":9},{"p":"l","k":"I","x":1.32,"y":12},{"p":"l","k":"I","x":1.36,"y":9},{"p":"l","k":"I","x":1.5,"y":7.2},{"p":"l","k":"I","x":2,"y":5},{"p":"l","k":"I","x":2.5,"y":4},{"p":"l","k":"I","x":3,"y":3.4},{"p":"l","k":"I","x":3.35,"y":2.6},{"p":"l","k":"I","x":3.4,"y":1},{"p":"l","k":"I","x":3.45,"y":3.2},{"p":"l","k":"I","x":3.6,"y":2.8},{"p":"l","k":"I","x":4,"y":2},{"p":"l","k":"I","x":4.3,"y":1.2},{"p":"l","k":"I","x":4.5,"y":0.2},{"p":"l","k":"I","x":4.7,"y":0},{"p":"l","k":"I","x":5,"y":0},{"p":"l","k":"I","x":6,"y":0},{"p":"l","k":"I","x":6.5,"y":0.1},{"p":"l","k":"I","x":7,"y":0},{"p":"l","k":"I","x":7.5,"y":0.2},{"p":"l","k":"I","x":8,"y":0.8},
{"p":"n","k":"R","x":1.72,"y":-17},{"p":"n","k":"R","x":2.0,"y":-12.5},{"p":"n","k":"R","x":2.3,"y":-9.5},{"p":"n","k":"R","x":2.6,"y":-7.2},{"p":"n","k":"R","x":2.7,"y":-6.5},{"p":"n","k":"R","x":2.75,"y":-9.5},{"p":"n","k":"R","x":2.8,"y":-6.8},{"p":"n","k":"R","x":3.0,"y":-5.8},{"p":"n","k":"R","x":3.4,"y":-4},{"p":"n","k":"R","x":3.8,"y":-2.4},{"p":"n","k":"R","x":3.88,"y":-1.2},{"p":"n","k":"R","x":3.95,"y":-2},{"p":"n","k":"R","x":4.2,"y":-1.2},{"p":"n","k":"R","x":4.5,"y":-0.3},{"p":"n","k":"R","x":5,"y":0},{"p":"n","k":"R","x":6,"y":0.5},{"p":"n","k":"R","x":6.5,"y":0.9},{"p":"n","k":"R","x":7,"y":1.5},{"p":"n","k":"R","x":7.3,"y":2.2},{"p":"n","k":"R","x":7.45,"y":3.5},{"p":"n","k":"R","x":7.6,"y":1.6},{"p":"n","k":"R","x":7.75,"y":0.3},{"p":"n","k":"R","x":7.85,"y":-1},{"p":"n","k":"R","x":7.95,"y":3},{"p":"n","k":"R","x":8,"y":5},
{"p":"n","k":"I","x":1.82,"y":-17},{"p":"n","k":"I","x":2.0,"y":-13.5},{"p":"n","k":"I","x":2.3,"y":-10},{"p":"n","k":"I","x":2.6,"y":-7},{"p":"n","k":"I","x":2.7,"y":-5.5},{"p":"n","k":"I","x":2.74,"y":-2.5},{"p":"n","k":"I","x":2.78,"y":-6.5},{"p":"n","k":"I","x":3.0,"y":-5.5},{"p":"n","k":"I","x":3.4,"y":-3.6},{"p":"n","k":"I","x":3.8,"y":-2.1},{"p":"n","k":"I","x":3.86,"y":-1.2},{"p":"n","k":"I","x":3.92,"y":-2.4},{"p":"n","k":"I","x":4.2,"y":-1.5},{"p":"n","k":"I","x":4.5,"y":-0.4},{"p":"n","k":"I","x":5,"y":0},{"p":"n","k":"I","x":6,"y":0.3},{"p":"n","k":"I","x":6.5,"y":0.6},{"p":"n","k":"I","x":7,"y":1},{"p":"n","k":"I","x":7.35,"y":1.8},{"p":"n","k":"I","x":7.45,"y":2.5},{"p":"n","k":"I","x":7.6,"y":0.8},{"p":"n","k":"I","x":7.8,"y":-0.5},{"p":"n","k":"I","x":7.95,"y":-5},{"p":"n","k":"I","x":8,"y":-1},
{"p":"o","k":"R","x":0.5,"y":1.6},{"p":"o","k":"R","x":0.95,"y":1.6},{"p":"o","k":"R","x":1.0,"y":1.0},{"p":"o","k":"R","x":1.05,"y":1.5},{"p":"o","k":"R","x":2,"y":1.5},{"p":"o","k":"R","x":2.6,"y":1.5},{"p":"o","k":"R","x":2.7,"y":0.8},{"p":"o","k":"R","x":2.8,"y":1.4},{"p":"o","k":"R","x":3.5,"y":1.3},{"p":"o","k":"R","x":3.8,"y":1.0},{"p":"o","k":"R","x":3.86,"y":-0.6},{"p":"o","k":"R","x":3.92,"y":0.9},{"p":"o","k":"R","x":4.2,"y":0.4},{"p":"o","k":"R","x":4.4,"y":-0.5},{"p":"o","k":"R","x":4.5,"y":-3},{"p":"o","k":"R","x":4.55,"y":-8.5},{"p":"o","k":"R","x":4.62,"y":-3.5},{"p":"o","k":"R","x":4.8,"y":-1.2},{"p":"o","k":"R","x":5,"y":-0.5},{"p":"o","k":"R","x":5.5,"y":0},{"p":"o","k":"R","x":6,"y":0.4},{"p":"o","k":"R","x":7,"y":0.8},{"p":"o","k":"R","x":7.5,"y":1.3},{"p":"o","k":"R","x":7.7,"y":3},{"p":"o","k":"R","x":7.75,"y":6},{"p":"o","k":"R","x":7.8,"y":0.5},{"p":"o","k":"R","x":7.9,"y":1},{"p":"o","k":"R","x":7.95,"y":5},{"p":"o","k":"R","x":8,"y":1},
{"p":"o","k":"I","x":0.5,"y":1.8},{"p":"o","k":"I","x":0.95,"y":1.8},{"p":"o","k":"I","x":1.0,"y":1.1},{"p":"o","k":"I","x":1.05,"y":1.8},{"p":"o","k":"I","x":2,"y":1.9},{"p":"o","k":"I","x":2.6,"y":2},{"p":"o","k":"I","x":2.7,"y":1.2},{"p":"o","k":"I","x":2.75,"y":2.2},{"p":"o","k":"I","x":3.5,"y":2.5},{"p":"o","k":"I","x":3.8,"y":2.8},{"p":"o","k":"I","x":3.86,"y":3.3},{"p":"o","k":"I","x":3.92,"y":2.7},{"p":"o","k":"I","x":4.2,"y":3.5},{"p":"o","k":"I","x":4.4,"y":5.5},{"p":"o","k":"I","x":4.5,"y":9.5},{"p":"o","k":"I","x":4.56,"y":1.5},{"p":"o","k":"I","x":4.7,"y":0.2},{"p":"o","k":"I","x":5,"y":-0.2},{"p":"o","k":"I","x":6,"y":-0.2},{"p":"o","k":"I","x":7,"y":-0.3},{"p":"o","k":"I","x":7.5,"y":-0.8},{"p":"o","k":"I","x":7.7,"y":-2.5},{"p":"o","k":"I","x":7.75,"y":-1},{"p":"o","k":"I","x":7.8,"y":4},{"p":"o","k":"I","x":7.85,"y":0},{"p":"o","k":"I","x":8,"y":0},
{"p":"p","k":"R","x":0.6,"y":-17},{"p":"p","k":"R","x":0.8,"y":-12.5},{"p":"p","k":"R","x":0.92,"y":-10.5},{"p":"p","k":"R","x":0.95,"y":-6},{"p":"p","k":"R","x":0.98,"y":-8},{"p":"p","k":"R","x":1.02,"y":-10},{"p":"p","k":"R","x":1.2,"y":-8.5},{"p":"p","k":"R","x":1.5,"y":-7},{"p":"p","k":"R","x":2,"y":-5.3},{"p":"p","k":"R","x":2.5,"y":-4.2},{"p":"p","k":"R","x":2.68,"y":-3.9},{"p":"p","k":"R","x":2.72,"y":-2},{"p":"p","k":"R","x":2.76,"y":-3.7},{"p":"p","k":"R","x":3,"y":-3.3},{"p":"p","k":"R","x":3.5,"y":-2.8},{"p":"p","k":"R","x":3.84,"y":-2.5},{"p":"p","k":"R","x":3.87,"y":-1.5},{"p":"p","k":"R","x":3.92,"y":-2.5},{"p":"p","k":"R","x":4.3,"y":-2.2},{"p":"p","k":"R","x":4.5,"y":-1.8},{"p":"p","k":"R","x":5,"y":-0.8},{"p":"p","k":"R","x":5.5,"y":-0.2},{"p":"p","k":"R","x":6,"y":0},{"p":"p","k":"R","x":7,"y":0.5},{"p":"p","k":"R","x":7.5,"y":1},{"p":"p","k":"R","x":7.8,"y":1.5},{"p":"p","k":"R","x":8,"y":2.5},
{"p":"p","k":"I","x":0.62,"y":16.5},{"p":"p","k":"I","x":0.8,"y":12.5},{"p":"p","k":"I","x":0.9,"y":11},{"p":"p","k":"I","x":0.94,"y":9},{"p":"p","k":"I","x":0.97,"y":12},{"p":"p","k":"I","x":1.0,"y":14},{"p":"p","k":"I","x":1.05,"y":10},{"p":"p","k":"I","x":1.2,"y":8.5},{"p":"p","k":"I","x":1.5,"y":7},{"p":"p","k":"I","x":2,"y":5.5},{"p":"p","k":"I","x":2.5,"y":4.2},{"p":"p","k":"I","x":2.66,"y":3.5},{"p":"p","k":"I","x":2.7,"y":2.5},{"p":"p","k":"I","x":2.74,"y":4.5},{"p":"p","k":"I","x":2.8,"y":3.8},{"p":"p","k":"I","x":3,"y":3.5},{"p":"p","k":"I","x":3.5,"y":2.8},{"p":"p","k":"I","x":3.82,"y":2.2},{"p":"p","k":"I","x":3.86,"y":1.2},{"p":"p","k":"I","x":3.9,"y":2.4},{"p":"p","k":"I","x":4.2,"y":1.5},{"p":"p","k":"I","x":4.4,"y":0.8},{"p":"p","k":"I","x":4.6,"y":0},{"p":"p","k":"I","x":5,"y":0},{"p":"p","k":"I","x":6,"y":0},{"p":"p","k":"I","x":7,"y":0.3},{"p":"p","k":"I","x":7.5,"y":0.5},{"p":"p","k":"I","x":7.8,"y":0.7},{"p":"p","k":"I","x":8,"y":1}
]
},
"columns":4,
"spacing":{"row":33,"column":27},
"bounds":"flush",
"resolve":{"scale":{"color":"independent","strokeDash":"independent"},"legend":{"color":"independent","strokeDash":"independent"}},
"concat":[
{"width":144,"height":97,"layer":[
{"data":{"name":"s"},"transform":[{"filter":"datum.p=='a'"}],"mark":{"type":"line","strokeWidth":1.2,"clip":true},"encoding":{"x":{"field":"x","type":"quantitative","scale":{"domain":[0,8]},"axis":{"orient":"bottom","values":[0,0.5,1,1.5,2,2.5,3,3.5,4,4.5,5,5.5,6,6.5,7,7.5,8],"labelExpr":"datum.value % 1 ? '' : '' + datum.value","title":null}},"y":{"field":"y","type":"quantitative","scale":{"domain":[0.02,1]},"axis":{"orient":"left","values":[0.05,0.2,0.35,0.5,0.65,0.8,0.95],"labelExpr":"datum.value==0.2||datum.value==0.5||datum.value==0.8 ? datum.label : ''","title":null}},"color":{"field":"k","type":"nominal","scale":{"domain":["S11","S21"],"range":["#e8212b","#1e22d6"]},"legend":{"orient":"none","legendX":9,"legendY":25,"title":null,"labelExpr":"datum.label=='S11' ? 'S₁₁' : 'S₂₁'","symbolType":"M-1.5,0H1.5","symbolSize":225,"symbolStrokeWidth":1.5,"labelOffset":8,"rowPadding":-2}}}},
{"data":{"values":[{}]},"mark":{"type":"text","align":"left","baseline":"top","font":"Liberation Serif","fontSize":12,"dx":3,"dy":3},"encoding":{"x":{"datum":0,"type":"quantitative","scale":{"domain":[0,8]},"axis":{"orient":"top","values":[0,0.5,1,1.5,2,2.5,3,3.5,4,4.5,5,5.5,6,6.5,7,7.5,8],"labels":false,"title":null}},"y":{"datum":1,"type":"quantitative","scale":{"domain":[0.02,1]},"axis":{"orient":"right","values":[0.05,0.2,0.35,0.5,0.65,0.8,0.95],"labels":false,"title":null}},"text":{"value":"(a)"}}}
],"resolve":{"axis":{"x":"independent","y":"independent"}}},
{"width":144,"height":97,"layer":[
{"data":{"name":"bands"},"transform":[{"filter":"datum.r==1"}],"mark":{"type":"rect","color":"#c8c8c8"},"encoding":{"x":{"field":"x0","type":"quantitative","scale":{"domain":[0,8]},"axis":null},"x2":{"field":"x1"}}},
{"data":{"name":"pk"},"mark":{"type":"line","strokeWidth":1.1,"clip":true},"encoding":{"x":{"field":"x","type":"quantitative","scale":{"domain":[0,8]},"axis":null},"y":{"field":"y","type":"quantitative","scale":{"domain":[-16.5,17]},"axis":null},"detail":{"field":"b"},"color":{"field":"k","type":"nominal","scale":{"domain":["R","I","P"],"range":["#e8212b","#1e22d6","#000000"]},"legend":{"orient":"none","legendX":70,"legendY":52,"title":null,"labelExpr":"datum.label=='R' ? 'Real(ε)' : datum.label=='I' ? 'Imag(ε)' : 'π/kb'","symbolType":"M-1.5,0H1.5","symbolSize":225,"symbolStrokeWidth":1.5,"labelOffset":8,"rowPadding":-2}},"strokeDash":{"field":"k","type":"nominal","scale":{"domain":["R","I","P"],"range":[[1,0],[1,0],[4,3]]},"legend":{"orient":"none","legendX":70,"legendY":52,"title":null,"labelExpr":"datum.label=='R' ? 'Real(ε)' : datum.label=='I' ? 'Imag(ε)' : 'π/kb'","symbolType":"M-1.5,0H1.5","symbolSize":225,"symbolStrokeWidth":1.5,"labelOffset":8,"rowPadding":-2}}}},
{"data":{"name":"m"},"transform":[{"filter":"datum.p=='b'"}],"mark":{"type":"line","strokeWidth":1.2,"clip":true},"encoding":{"x":{"field":"x","type":"quantitative","scale":{"domain":[0,8]},"axis":{"orient":"bottom","values":[0,0.5,1,1.5,2,2.5,3,3.5,4,4.5,5,5.5,6,6.5,7,7.5,8],"labelExpr":"datum.value % 1 ? '' : '' + datum.value","title":null}},"y":{"field":"y","type":"quantitative","scale":{"domain":[-16.5,17]},"axis":{"orient":"left","values":[-15,-10,-5,0,5,10,15],"labelExpr":"datum.value % 10 == 0 ? '' + datum.value : ''","title":null}},"color":{"field":"k","type":"nominal","scale":{"domain":["R","I","P"],"range":["#e8212b","#1e22d6","#000000"]},"legend":{"orient":"none","legendX":70,"legendY":52,"title":null,"labelExpr":"datum.label=='R' ? 'Real(ε)' : datum.label=='I' ? 'Imag(ε)' : 'π/kb'","symbolType":"M-1.5,0H1.5","symbolSize":225,"symbolStrokeWidth":1.5,"labelOffset":8,"rowPadding":-2}},"strokeDash":{"field":"k","type":"nominal","scale":{"domain":["R","I","P"],"range":[[1,0],[1,0],[4,3]]},"legend":{"orient":"none","legendX":70,"legendY":52,"title":null,"labelExpr":"datum.label=='R' ? 'Real(ε)' : datum.label=='I' ? 'Imag(ε)' : 'π/kb'","symbolType":"M-1.5,0H1.5","symbolSize":225,"symbolStrokeWidth":1.5,"labelOffset":8,"rowPadding":-2}}}},
{"data":{"values":[{}]},"mark":{"type":"text","align":"left","baseline":"top","font":"Liberation Serif","fontSize":12,"dx":3,"dy":3},"encoding":{"x":{"datum":0,"type":"quantitative","scale":{"domain":[0,8]},"axis":{"orient":"top","values":[0,0.5,1,1.5,2,2.5,3,3.5,4,4.5,5,5.5,6,6.5,7,7.5,8],"labels":false,"title":null}},"y":{"datum":17,"type":"quantitative","scale":{"domain":[-16.5,17]},"axis":{"orient":"right","values":[-15,-10,-5,0,5,10,15],"labels":false,"title":null}},"text":{"value":"(b)"}}}
],"resolve":{"axis":{"x":"independent","y":"independent"}}},
{"width":144,"height":97,"layer":[
{"data":{"name":"bands"},"transform":[{"filter":"datum.r==1"}],"mark":{"type":"rect","color":"#c8c8c8"},"encoding":{"x":{"field":"x0","type":"quantitative","scale":{"domain":[0,8]},"axis":null},"x2":{"field":"x1"}}},
{"data":{"name":"pk"},"mark":{"type":"line","strokeWidth":1.1,"clip":true},"encoding":{"x":{"field":"x","type":"quantitative","scale":{"domain":[0,8]},"axis":null},"y":{"field":"y","type":"quantitative","scale":{"domain":[-16.5,17]},"axis":null},"detail":{"field":"b"},"color":{"field":"k","type":"nominal","scale":{"domain":["R","I","P"],"range":["#e8212b","#1e22d6","#000000"]},"legend":{"orient":"none","legendX":70,"legendY":52,"title":null,"labelExpr":"datum.label=='R' ? 'Real(μ)' : datum.label=='I' ? 'Imag(μ)' : 'π/kb'","symbolType":"M-1.5,0H1.5","symbolSize":225,"symbolStrokeWidth":1.5,"labelOffset":8,"rowPadding":-2}},"strokeDash":{"field":"k","type":"nominal","scale":{"domain":["R","I","P"],"range":[[1,0],[1,0],[4,3]]},"legend":{"orient":"none","legendX":70,"legendY":52,"title":null,"labelExpr":"datum.label=='R' ? 'Real(μ)' : datum.label=='I' ? 'Imag(μ)' : 'π/kb'","symbolType":"M-1.5,0H1.5","symbolSize":225,"symbolStrokeWidth":1.5,"labelOffset":8,"rowPadding":-2}}}},
{"data":{"name":"m"},"transform":[{"filter":"datum.p=='c'"}],"mark":{"type":"line","strokeWidth":1.2,"clip":true},"encoding":{"x":{"field":"x","type":"quantitative","scale":{"domain":[0,8]},"axis":{"orient":"bottom","values":[0,0.5,1,1.5,2,2.5,3,3.5,4,4.5,5,5.5,6,6.5,7,7.5,8],"labelExpr":"datum.value % 1 ? '' : '' + datum.value","title":null}},"y":{"field":"y","type":"quantitative","scale":{"domain":[-16.5,17]},"axis":{"orient":"left","values":[-15,-10,-5,0,5,10,15],"labelExpr":"datum.value % 10 == 0 ? '' + datum.value : ''","title":null}},"color":{"field":"k","type":"nominal","scale":{"domain":["R","I","P"],"range":["#e8212b","#1e22d6","#000000"]},"legend":{"orient":"none","legendX":70,"legendY":52,"title":null,"labelExpr":"datum.label=='R' ? 'Real(μ)' : datum.label=='I' ? 'Imag(μ)' : 'π/kb'","symbolType":"M-1.5,0H1.5","symbolSize":225,"symbolStrokeWidth":1.5,"labelOffset":8,"rowPadding":-2}},"strokeDash":{"field":"k","type":"nominal","scale":{"domain":["R","I","P"],"range":[[1,0],[1,0],[4,3]]},"legend":{"orient":"none","legendX":70,"legendY":52,"title":null,"labelExpr":"datum.label=='R' ? 'Real(μ)' : datum.label=='I' ? 'Imag(μ)' : 'π/kb'","symbolType":"M-1.5,0H1.5","symbolSize":225,"symbolStrokeWidth":1.5,"labelOffset":8,"rowPadding":-2}}}},
{"data":{"values":[{}]},"mark":{"type":"text","align":"left","baseline":"top","font":"Liberation Serif","fontSize":12,"dx":3,"dy":3},"encoding":{"x":{"datum":0,"type":"quantitative","scale":{"domain":[0,8]},"axis":{"orient":"top","values":[0,0.5,1,1.5,2,2.5,3,3.5,4,4.5,5,5.5,6,6.5,7,7.5,8],"labels":false,"title":null}},"y":{"datum":17,"type":"quantitative","scale":{"domain":[-16.5,17]},"axis":{"orient":"right","values":[-15,-10,-5,0,5,10,15],"labels":false,"title":null}},"text":{"value":"(c)"}}}
],"resolve":{"axis":{"x":"independent","y":"independent"}}},
{"width":144,"height":97,"layer":[
{"data":{"name":"bands"},"transform":[{"filter":"datum.r==1"}],"mark":{"type":"rect","color":"#c8c8c8"},"encoding":{"x":{"field":"x0","type":"quantitative","scale":{"domain":[0,8]},"axis":null},"x2":{"field":"x1"}}},
{"data":{"name":"pk"},"mark":{"type":"line","strokeWidth":1.1,"clip":true},"encoding":{"x":{"field":"x","type":"quantitative","scale":{"domain":[0,8]},"axis":null},"y":{"field":"y","type":"quantitative","scale":{"domain":[-16.5,17]},"axis":null},"detail":{"field":"b"},"color":{"field":"k","type":"nominal","scale":{"domain":["R","I","P"],"range":["#e8212b","#1e22d6","#000000"]},"legend":{"orient":"none","legendX":70,"legendY":52,"title":null,"labelExpr":"datum.label=='R' ? 'Real(n)' : datum.label=='I' ? 'Imag(n)' : 'π/kb'","symbolType":"M-1.5,0H1.5","symbolSize":225,"symbolStrokeWidth":1.5,"labelOffset":8,"rowPadding":-2}},"strokeDash":{"field":"k","type":"nominal","scale":{"domain":["R","I","P"],"range":[[1,0],[1,0],[4,3]]},"legend":{"orient":"none","legendX":70,"legendY":52,"title":null,"labelExpr":"datum.label=='R' ? 'Real(n)' : datum.label=='I' ? 'Imag(n)' : 'π/kb'","symbolType":"M-1.5,0H1.5","symbolSize":225,"symbolStrokeWidth":1.5,"labelOffset":8,"rowPadding":-2}}}},
{"data":{"name":"m"},"transform":[{"filter":"datum.p=='d'"}],"mark":{"type":"line","strokeWidth":1.2,"clip":true},"encoding":{"x":{"field":"x","type":"quantitative","scale":{"domain":[0,8]},"axis":{"orient":"bottom","values":[0,0.5,1,1.5,2,2.5,3,3.5,4,4.5,5,5.5,6,6.5,7,7.5,8],"labelExpr":"datum.value % 1 ? '' : '' + datum.value","title":null}},"y":{"field":"y","type":"quantitative","scale":{"domain":[-16.5,17]},"axis":{"orient":"left","values":[-15,-10,-5,0,5,10,15],"labelExpr":"datum.value % 10 == 0 ? '' + datum.value : ''","title":null}},"color":{"field":"k","type":"nominal","scale":{"domain":["R","I","P"],"range":["#e8212b","#1e22d6","#000000"]},"legend":{"orient":"none","legendX":70,"legendY":52,"title":null,"labelExpr":"datum.label=='R' ? 'Real(n)' : datum.label=='I' ? 'Imag(n)' : 'π/kb'","symbolType":"M-1.5,0H1.5","symbolSize":225,"symbolStrokeWidth":1.5,"labelOffset":8,"rowPadding":-2}},"strokeDash":{"field":"k","type":"nominal","scale":{"domain":["R","I","P"],"range":[[1,0],[1,0],[4,3]]},"legend":{"orient":"none","legendX":70,"legendY":52,"title":null,"labelExpr":"datum.label=='R' ? 'Real(n)' : datum.label=='I' ? 'Imag(n)' : 'π/kb'","symbolType":"M-1.5,0H1.5","symbolSize":225,"symbolStrokeWidth":1.5,"labelOffset":8,"rowPadding":-2}}}},
{"data":{"values":[{}]},"mark":{"type":"text","align":"left","baseline":"top","font":"Liberation Serif","fontSize":12,"dx":3,"dy":3},"encoding":{"x":{"datum":0,"type":"quantitative","scale":{"domain":[0,8]},"axis":{"orient":"top","values":[0,0.5,1,1.5,2,2.5,3,3.5,4,4.5,5,5.5,6,6.5,7,7.5,8],"labels":false,"title":null}},"y":{"datum":17,"type":"quantitative","scale":{"domain":[-16.5,17]},"axis":{"orient":"right","values":[-15,-10,-5,0,5,10,15],"labels":false,"title":null}},"text":{"value":"(d)"}}}
],"resolve":{"axis":{"x":"independent","y":"independent"}}},
{"width":144,"height":97,"layer":[
{"data":{"name":"s"},"transform":[{"filter":"datum.p=='e'"}],"mark":{"type":"line","strokeWidth":1.2,"clip":true},"encoding":{"x":{"field":"x","type":"quantitative","scale":{"domain":[0,8]},"axis":{"orient":"bottom","values":[0,0.5,1,1.5,2,2.5,3,3.5,4,4.5,5,5.5,6,6.5,7,7.5,8],"labelExpr":"datum.value % 1 ? '' : '' + datum.value","title":null}},"y":{"field":"y","type":"quantitative","scale":{"domain":[0.02,1]},"axis":{"orient":"left","values":[0.05,0.2,0.35,0.5,0.65,0.8,0.95],"labelExpr":"datum.value==0.2||datum.value==0.5||datum.value==0.8 ? datum.label : ''","title":null}},"color":{"field":"k","type":"nominal","scale":{"domain":["S11","S21"],"range":["#e8212b","#1e22d6"]},"legend":null}}},
{"data":{"values":[{}]},"mark":{"type":"text","align":"left","baseline":"top","font":"Liberation Serif","fontSize":12,"dx":3,"dy":3},"encoding":{"x":{"datum":0,"type":"quantitative","scale":{"domain":[0,8]},"axis":{"orient":"top","values":[0,0.5,1,1.5,2,2.5,3,3.5,4,4.5,5,5.5,6,6.5,7,7.5,8],"labels":false,"title":null}},"y":{"datum":1,"type":"quantitative","scale":{"domain":[0.02,1]},"axis":{"orient":"right","values":[0.05,0.2,0.35,0.5,0.65,0.8,0.95],"labels":false,"title":null}},"text":{"value":"(e)"}}}
],"resolve":{"axis":{"x":"independent","y":"independent"}}},
{"width":144,"height":97,"layer":[
{"data":{"name":"bands"},"transform":[{"filter":"datum.r==2"}],"mark":{"type":"rect","color":"#c8c8c8"},"encoding":{"x":{"field":"x0","type":"quantitative","scale":{"domain":[0,8]},"axis":null},"x2":{"field":"x1"}}},
{"data":{"name":"pk"},"mark":{"type":"line","strokeWidth":1.1,"clip":true},"encoding":{"x":{"field":"x","type":"quantitative","scale":{"domain":[0,8]},"axis":null},"y":{"field":"y","type":"quantitative","scale":{"domain":[-16.5,17]},"axis":null},"detail":{"field":"b"},"color":{"field":"k","type":"nominal","scale":{"domain":["R","I","P"],"range":["#e8212b","#1e22d6","#000000"]},"legend":null},"strokeDash":{"field":"k","type":"nominal","scale":{"domain":["R","I","P"],"range":[[1,0],[1,0],[4,3]]},"legend":null}}},
{"data":{"name":"m"},"transform":[{"filter":"datum.p=='f'"}],"mark":{"type":"line","strokeWidth":1.2,"clip":true},"encoding":{"x":{"field":"x","type":"quantitative","scale":{"domain":[0,8]},"axis":{"orient":"bottom","values":[0,0.5,1,1.5,2,2.5,3,3.5,4,4.5,5,5.5,6,6.5,7,7.5,8],"labelExpr":"datum.value % 1 ? '' : '' + datum.value","title":null}},"y":{"field":"y","type":"quantitative","scale":{"domain":[-16.5,17]},"axis":{"orient":"left","values":[-15,-10,-5,0,5,10,15],"labelExpr":"datum.value % 10 == 0 ? '' + datum.value : ''","title":null}},"color":{"field":"k","type":"nominal","scale":{"domain":["R","I","P"],"range":["#e8212b","#1e22d6","#000000"]},"legend":null},"strokeDash":{"field":"k","type":"nominal","scale":{"domain":["R","I","P"],"range":[[1,0],[1,0],[4,3]]},"legend":null}}},
{"data":{"values":[{}]},"mark":{"type":"text","align":"left","baseline":"top","font":"Liberation Serif","fontSize":12,"dx":3,"dy":3},"encoding":{"x":{"datum":0,"type":"quantitative","scale":{"domain":[0,8]},"axis":{"orient":"top","values":[0,0.5,1,1.5,2,2.5,3,3.5,4,4.5,5,5.5,6,6.5,7,7.5,8],"labels":false,"title":null}},"y":{"datum":17,"type":"quantitative","scale":{"domain":[-16.5,17]},"axis":{"orient":"right","values":[-15,-10,-5,0,5,10,15],"labels":false,"title":null}},"text":{"value":"(f)"}}}
],"resolve":{"axis":{"x":"independent","y":"independent"}}},
{"width":144,"height":97,"layer":[
{"data":{"name":"bands"},"transform":[{"filter":"datum.r==2"}],"mark":{"type":"rect","color":"#c8c8c8"},"encoding":{"x":{"field":"x0","type":"quantitative","scale":{"domain":[0,8]},"axis":null},"x2":{"field":"x1"}}},
{"data":{"name":"pk"},"mark":{"type":"line","strokeWidth":1.1,"clip":true},"encoding":{"x":{"field":"x","type":"quantitative","scale":{"domain":[0,8]},"axis":null},"y":{"field":"y","type":"quantitative","scale":{"domain":[-16.5,17]},"axis":null},"detail":{"field":"b"},"color":{"field":"k","type":"nominal","scale":{"domain":["R","I","P"],"range":["#e8212b","#1e22d6","#000000"]},"legend":null},"strokeDash":{"field":"k","type":"nominal","scale":{"domain":["R","I","P"],"range":[[1,0],[1,0],[4,3]]},"legend":null}}},
{"data":{"name":"m"},"transform":[{"filter":"datum.p=='g'"}],"mark":{"type":"line","strokeWidth":1.2,"clip":true},"encoding":{"x":{"field":"x","type":"quantitative","scale":{"domain":[0,8]},"axis":{"orient":"bottom","values":[0,0.5,1,1.5,2,2.5,3,3.5,4,4.5,5,5.5,6,6.5,7,7.5,8],"labelExpr":"datum.value % 1 ? '' : '' + datum.value","title":null}},"y":{"field":"y","type":"quantitative","scale":{"domain":[-16.5,17]},"axis":{"orient":"left","values":[-15,-10,-5,0,5,10,15],"labelExpr":"datum.value % 10 == 0 ? '' + datum.value : ''","title":null}},"color":{"field":"k","type":"nominal","scale":{"domain":["R","I","P"],"range":["#e8212b","#1e22d6","#000000"]},"legend":null},"strokeDash":{"field":"k","type":"nominal","scale":{"domain":["R","I","P"],"range":[[1,0],[1,0],[4,3]]},"legend":null}}},
{"data":{"values":[{}]},"mark":{"type":"text","align":"left","baseline":"top","font":"Liberation Serif","fontSize":12,"dx":3,"dy":3},"encoding":{"x":{"datum":0,"type":"quantitative","scale":{"domain":[0,8]},"axis":{"orient":"top","values":[0,0.5,1,1.5,2,2.5,3,3.5,4,4.5,5,5.5,6,6.5,7,7.5,8],"labels":false,"title":null}},"y":{"datum":17,"type":"quantitative","scale":{"domain":[-16.5,17]},"axis":{"orient":"right","values":[-15,-10,-5,0,5,10,15],"labels":false,"title":null}},"text":{"value":"(g)"}}}
],"resolve":{"axis":{"x":"independent","y":"independent"}}},
{"width":144,"height":97,"layer":[
{"data":{"name":"bands"},"transform":[{"filter":"datum.r==2"}],"mark":{"type":"rect","color":"#c8c8c8"},"encoding":{"x":{"field":"x0","type":"quantitative","scale":{"domain":[0,8]},"axis":null},"x2":{"field":"x1"}}},
{"data":{"name":"pk"},"mark":{"type":"line","strokeWidth":1.1,"clip":true},"encoding":{"x":{"field":"x","type":"quantitative","scale":{"domain":[0,8]},"axis":null},"y":{"field":"y","type":"quantitative","scale":{"domain":[-16.5,17]},"axis":null},"detail":{"field":"b"},"color":{"field":"k","type":"nominal","scale":{"domain":["R","I","P"],"range":["#e8212b","#1e22d6","#000000"]},"legend":null},"strokeDash":{"field":"k","type":"nominal","scale":{"domain":["R","I","P"],"range":[[1,0],[1,0],[4,3]]},"legend":null}}},
{"data":{"name":"m"},"transform":[{"filter":"datum.p=='h'"}],"mark":{"type":"line","strokeWidth":1.2,"clip":true},"encoding":{"x":{"field":"x","type":"quantitative","scale":{"domain":[0,8]},"axis":{"orient":"bottom","values":[0,0.5,1,1.5,2,2.5,3,3.5,4,4.5,5,5.5,6,6.5,7,7.5,8],"labelExpr":"datum.value % 1 ? '' : '' + datum.value","title":null}},"y":{"field":"y","type":"quantitative","scale":{"domain":[-16.5,17]},"axis":{"orient":"left","values":[-15,-10,-5,0,5,10,15],"labelExpr":"datum.value % 10 == 0 ? '' + datum.value : ''","title":null}},"color":{"field":"k","type":"nominal","scale":{"domain":["R","I","P"],"range":["#e8212b","#1e22d6","#000000"]},"legend":null},"strokeDash":{"field":"k","type":"nominal","scale":{"domain":["R","I","P"],"range":[[1,0],[1,0],[4,3]]},"legend":null}}},
{"data":{"values":[{}]},"mark":{"type":"text","align":"left","baseline":"top","font":"Liberation Serif","fontSize":12,"dx":3,"dy":3},"encoding":{"x":{"datum":0,"type":"quantitative","scale":{"domain":[0,8]},"axis":{"orient":"top","values":[0,0.5,1,1.5,2,2.5,3,3.5,4,4.5,5,5.5,6,6.5,7,7.5,8],"labels":false,"title":null}},"y":{"datum":17,"type":"quantitative","scale":{"domain":[-16.5,17]},"axis":{"orient":"right","values":[-15,-10,-5,0,5,10,15],"labels":false,"title":null}},"text":{"value":"(h)"}}}
],"resolve":{"axis":{"x":"independent","y":"independent"}}},
{"width":144,"height":97,"layer":[
{"data":{"name":"s"},"transform":[{"filter":"datum.p=='i'"}],"mark":{"type":"line","strokeWidth":1.2,"clip":true},"encoding":{"x":{"field":"x","type":"quantitative","scale":{"domain":[0,8]},"axis":{"orient":"bottom","values":[0,0.5,1,1.5,2,2.5,3,3.5,4,4.5,5,5.5,6,6.5,7,7.5,8],"labelExpr":"datum.value % 1 ? '' : '' + datum.value","title":null}},"y":{"field":"y","type":"quantitative","scale":{"domain":[0.02,1]},"axis":{"orient":"left","values":[0.05,0.2,0.35,0.5,0.65,0.8,0.95],"labelExpr":"datum.value==0.2||datum.value==0.5||datum.value==0.8 ? datum.label : ''","title":null}},"color":{"field":"k","type":"nominal","scale":{"domain":["S11","S21"],"range":["#e8212b","#1e22d6"]},"legend":null}}},
{"data":{"values":[{}]},"mark":{"type":"text","align":"left","baseline":"top","font":"Liberation Serif","fontSize":12,"dx":3,"dy":3},"encoding":{"x":{"datum":0,"type":"quantitative","scale":{"domain":[0,8]},"axis":{"orient":"top","values":[0,0.5,1,1.5,2,2.5,3,3.5,4,4.5,5,5.5,6,6.5,7,7.5,8],"labels":false,"title":null}},"y":{"datum":1,"type":"quantitative","scale":{"domain":[0.02,1]},"axis":{"orient":"right","values":[0.05,0.2,0.35,0.5,0.65,0.8,0.95],"labels":false,"title":null}},"text":{"value":"(i)"}}}
],"resolve":{"axis":{"x":"independent","y":"independent"}}},
{"width":144,"height":97,"layer":[
{"data":{"name":"bands"},"transform":[{"filter":"datum.r==3"}],"mark":{"type":"rect","color":"#c8c8c8"},"encoding":{"x":{"field":"x0","type":"quantitative","scale":{"domain":[0,8]},"axis":null},"x2":{"field":"x1"}}},
{"data":{"name":"pk"},"mark":{"type":"line","strokeWidth":1.1,"clip":true},"encoding":{"x":{"field":"x","type":"quantitative","scale":{"domain":[0,8]},"axis":null},"y":{"field":"y","type":"quantitative","scale":{"domain":[-16.5,17]},"axis":null},"detail":{"field":"b"},"color":{"field":"k","type":"nominal","scale":{"domain":["R","I","P"],"range":["#e8212b","#1e22d6","#000000"]},"legend":null},"strokeDash":{"field":"k","type":"nominal","scale":{"domain":["R","I","P"],"range":[[1,0],[1,0],[4,3]]},"legend":null}}},
{"data":{"name":"m"},"transform":[{"filter":"datum.p=='j'"}],"mark":{"type":"line","strokeWidth":1.2,"clip":true},"encoding":{"x":{"field":"x","type":"quantitative","scale":{"domain":[0,8]},"axis":{"orient":"bottom","values":[0,0.5,1,1.5,2,2.5,3,3.5,4,4.5,5,5.5,6,6.5,7,7.5,8],"labelExpr":"datum.value % 1 ? '' : '' + datum.value","title":null}},"y":{"field":"y","type":"quantitative","scale":{"domain":[-16.5,17]},"axis":{"orient":"left","values":[-15,-10,-5,0,5,10,15],"labelExpr":"datum.value % 10 == 0 ? '' + datum.value : ''","title":null}},"color":{"field":"k","type":"nominal","scale":{"domain":["R","I","P"],"range":["#e8212b","#1e22d6","#000000"]},"legend":null},"strokeDash":{"field":"k","type":"nominal","scale":{"domain":["R","I","P"],"range":[[1,0],[1,0],[4,3]]},"legend":null}}},
{"data":{"values":[{}]},"mark":{"type":"text","align":"left","baseline":"top","font":"Liberation Serif","fontSize":12,"dx":3,"dy":3},"encoding":{"x":{"datum":0,"type":"quantitative","scale":{"domain":[0,8]},"axis":{"orient":"top","values":[0,0.5,1,1.5,2,2.5,3,3.5,4,4.5,5,5.5,6,6.5,7,7.5,8],"labels":false,"title":null}},"y":{"datum":17,"type":"quantitative","scale":{"domain":[-16.5,17]},"axis":{"orient":"right","values":[-15,-10,-5,0,5,10,15],"labels":false,"title":null}},"text":{"value":"(j)"}}}
],"resolve":{"axis":{"x":"independent","y":"independent"}}},
{"width":144,"height":97,"layer":[
{"data":{"name":"bands"},"transform":[{"filter":"datum.r==3"}],"mark":{"type":"rect","color":"#c8c8c8"},"encoding":{"x":{"field":"x0","type":"quantitative","scale":{"domain":[0,8]},"axis":null},"x2":{"field":"x1"}}},
{"data":{"name":"pk"},"mark":{"type":"line","strokeWidth":1.1,"clip":true},"encoding":{"x":{"field":"x","type":"quantitative","scale":{"domain":[0,8]},"axis":null},"y":{"field":"y","type":"quantitative","scale":{"domain":[-16.5,17]},"axis":null},"detail":{"field":"b"},"color":{"field":"k","type":"nominal","scale":{"domain":["R","I","P"],"range":["#e8212b","#1e22d6","#000000"]},"legend":null},"strokeDash":{"field":"k","type":"nominal","scale":{"domain":["R","I","P"],"range":[[1,0],[1,0],[4,3]]},"legend":null}}},
{"data":{"name":"m"},"transform":[{"filter":"datum.p=='k'"}],"mark":{"type":"line","strokeWidth":1.2,"clip":true},"encoding":{"x":{"field":"x","type":"quantitative","scale":{"domain":[0,8]},"axis":{"orient":"bottom","values":[0,0.5,1,1.5,2,2.5,3,3.5,4,4.5,5,5.5,6,6.5,7,7.5,8],"labelExpr":"datum.value % 1 ? '' : '' + datum.value","title":null}},"y":{"field":"y","type":"quantitative","scale":{"domain":[-16.5,17]},"axis":{"orient":"left","values":[-15,-10,-5,0,5,10,15],"labelExpr":"datum.value % 10 == 0 ? '' + datum.value : ''","title":null}},"color":{"field":"k","type":"nominal","scale":{"domain":["R","I","P"],"range":["#e8212b","#1e22d6","#000000"]},"legend":null},"strokeDash":{"field":"k","type":"nominal","scale":{"domain":["R","I","P"],"range":[[1,0],[1,0],[4,3]]},"legend":null}}},
{"data":{"values":[{}]},"mark":{"type":"text","align":"left","baseline":"top","font":"Liberation Serif","fontSize":12,"dx":3,"dy":3},"encoding":{"x":{"datum":0,"type":"quantitative","scale":{"domain":[0,8]},"axis":{"orient":"top","values":[0,0.5,1,1.5,2,2.5,3,3.5,4,4.5,5,5.5,6,6.5,7,7.5,8],"labels":false,"title":null}},"y":{"datum":17,"type":"quantitative","scale":{"domain":[-16.5,17]},"axis":{"orient":"right","values":[-15,-10,-5,0,5,10,15],"labels":false,"title":null}},"text":{"value":"(k)"}}}
],"resolve":{"axis":{"x":"independent","y":"independent"}}},
{"width":144,"height":97,"layer":[
{"data":{"name":"bands"},"transform":[{"filter":"datum.r==3"}],"mark":{"type":"rect","color":"#c8c8c8"},"encoding":{"x":{"field":"x0","type":"quantitative","scale":{"domain":[0,8]},"axis":null},"x2":{"field":"x1"}}},
{"data":{"name":"pk"},"mark":{"type":"line","strokeWidth":1.1,"clip":true},"encoding":{"x":{"field":"x","type":"quantitative","scale":{"domain":[0,8]},"axis":null},"y":{"field":"y","type":"quantitative","scale":{"domain":[-16.5,17]},"axis":null},"detail":{"field":"b"},"color":{"field":"k","type":"nominal","scale":{"domain":["R","I","P"],"range":["#e8212b","#1e22d6","#000000"]},"legend":null},"strokeDash":{"field":"k","type":"nominal","scale":{"domain":["R","I","P"],"range":[[1,0],[1,0],[4,3]]},"legend":null}}},
{"data":{"name":"m"},"transform":[{"filter":"datum.p=='l'"}],"mark":{"type":"line","strokeWidth":1.2,"clip":true},"encoding":{"x":{"field":"x","type":"quantitative","scale":{"domain":[0,8]},"axis":{"orient":"bottom","values":[0,0.5,1,1.5,2,2.5,3,3.5,4,4.5,5,5.5,6,6.5,7,7.5,8],"labelExpr":"datum.value % 1 ? '' : '' + datum.value","title":null}},"y":{"field":"y","type":"quantitative","scale":{"domain":[-16.5,17]},"axis":{"orient":"left","values":[-15,-10,-5,0,5,10,15],"labelExpr":"datum.value % 10 == 0 ? '' + datum.value : ''","title":null}},"color":{"field":"k","type":"nominal","scale":{"domain":["R","I","P"],"range":["#e8212b","#1e22d6","#000000"]},"legend":null},"strokeDash":{"field":"k","type":"nominal","scale":{"domain":["R","I","P"],"range":[[1,0],[1,0],[4,3]]},"legend":null}}},
{"data":{"values":[{}]},"mark":{"type":"text","align":"left","baseline":"top","font":"Liberation Serif","fontSize":12,"dx":3,"dy":3},"encoding":{"x":{"datum":0,"type":"quantitative","scale":{"domain":[0,8]},"axis":{"orient":"top","values":[0,0.5,1,1.5,2,2.5,3,3.5,4,4.5,5,5.5,6,6.5,7,7.5,8],"labels":false,"title":null}},"y":{"datum":17,"type":"quantitative","scale":{"domain":[-16.5,17]},"axis":{"orient":"right","values":[-15,-10,-5,0,5,10,15],"labels":false,"title":null}},"text":{"value":"(l)"}}}
],"resolve":{"axis":{"x":"independent","y":"independent"}}},
{"width":144,"height":97,"layer":[
{"data":{"name":"s"},"transform":[{"filter":"datum.p=='m'"}],"mark":{"type":"line","strokeWidth":1.2,"clip":true},"encoding":{"x":{"field":"x","type":"quantitative","scale":{"domain":[0,8]},"axis":{"orient":"bottom","values":[0,0.5,1,1.5,2,2.5,3,3.5,4,4.5,5,5.5,6,6.5,7,7.5,8],"labelExpr":"datum.value % 1 ? '' : '' + datum.value","title":"Frequency (THz)"}},"y":{"field":"y","type":"quantitative","scale":{"domain":[0.02,1]},"axis":{"orient":"left","values":[0.05,0.2,0.35,0.5,0.65,0.8,0.95],"labelExpr":"datum.value==0.2||datum.value==0.5||datum.value==0.8 ? datum.label : ''","title":null}},"color":{"field":"k","type":"nominal","scale":{"domain":["S11","S21"],"range":["#e8212b","#1e22d6"]},"legend":null}}},
{"data":{"values":[{}]},"mark":{"type":"text","align":"left","baseline":"top","font":"Liberation Serif","fontSize":12,"dx":3,"dy":3},"encoding":{"x":{"datum":0,"type":"quantitative","scale":{"domain":[0,8]},"axis":{"orient":"top","values":[0,0.5,1,1.5,2,2.5,3,3.5,4,4.5,5,5.5,6,6.5,7,7.5,8],"labels":false,"title":null}},"y":{"datum":1,"type":"quantitative","scale":{"domain":[0.02,1]},"axis":{"orient":"right","values":[0.05,0.2,0.35,0.5,0.65,0.8,0.95],"labels":false,"title":null}},"text":{"value":"(m)"}}}
],"resolve":{"axis":{"x":"independent","y":"independent"}}},
{"width":144,"height":97,"layer":[
{"data":{"name":"bands"},"transform":[{"filter":"datum.r==4"}],"mark":{"type":"rect","color":"#c8c8c8"},"encoding":{"x":{"field":"x0","type":"quantitative","scale":{"domain":[0,8]},"axis":null},"x2":{"field":"x1"}}},
{"data":{"name":"pk"},"mark":{"type":"line","strokeWidth":1.1,"clip":true},"encoding":{"x":{"field":"x","type":"quantitative","scale":{"domain":[0,8]},"axis":null},"y":{"field":"y","type":"quantitative","scale":{"domain":[-16.5,17]},"axis":null},"detail":{"field":"b"},"color":{"field":"k","type":"nominal","scale":{"domain":["R","I","P"],"range":["#e8212b","#1e22d6","#000000"]},"legend":null},"strokeDash":{"field":"k","type":"nominal","scale":{"domain":["R","I","P"],"range":[[1,0],[1,0],[4,3]]},"legend":null}}},
{"data":{"name":"m"},"transform":[{"filter":"datum.p=='n'"}],"mark":{"type":"line","strokeWidth":1.2,"clip":true},"encoding":{"x":{"field":"x","type":"quantitative","scale":{"domain":[0,8]},"axis":{"orient":"bottom","values":[0,0.5,1,1.5,2,2.5,3,3.5,4,4.5,5,5.5,6,6.5,7,7.5,8],"labelExpr":"datum.value % 1 ? '' : '' + datum.value","title":"Frequency (THz)"}},"y":{"field":"y","type":"quantitative","scale":{"domain":[-16.5,17]},"axis":{"orient":"left","values":[-15,-10,-5,0,5,10,15],"labelExpr":"datum.value % 10 == 0 ? '' + datum.value : ''","title":null}},"color":{"field":"k","type":"nominal","scale":{"domain":["R","I","P"],"range":["#e8212b","#1e22d6","#000000"]},"legend":null},"strokeDash":{"field":"k","type":"nominal","scale":{"domain":["R","I","P"],"range":[[1,0],[1,0],[4,3]]},"legend":null}}},
{"data":{"values":[{}]},"mark":{"type":"text","align":"left","baseline":"top","font":"Liberation Serif","fontSize":12,"dx":3,"dy":3},"encoding":{"x":{"datum":0,"type":"quantitative","scale":{"domain":[0,8]},"axis":{"orient":"top","values":[0,0.5,1,1.5,2,2.5,3,3.5,4,4.5,5,5.5,6,6.5,7,7.5,8],"labels":false,"title":null}},"y":{"datum":17,"type":"quantitative","scale":{"domain":[-16.5,17]},"axis":{"orient":"right","values":[-15,-10,-5,0,5,10,15],"labels":false,"title":null}},"text":{"value":"(n)"}}}
],"resolve":{"axis":{"x":"independent","y":"independent"}}},
{"width":144,"height":97,"layer":[
{"data":{"name":"bands"},"transform":[{"filter":"datum.r==4"}],"mark":{"type":"rect","color":"#c8c8c8"},"encoding":{"x":{"field":"x0","type":"quantitative","scale":{"domain":[0,8]},"axis":null},"x2":{"field":"x1"}}},
{"data":{"name":"pk"},"mark":{"type":"line","strokeWidth":1.1,"clip":true},"encoding":{"x":{"field":"x","type":"quantitative","scale":{"domain":[0,8]},"axis":null},"y":{"field":"y","type":"quantitative","scale":{"domain":[-16.5,17]},"axis":null},"detail":{"field":"b"},"color":{"field":"k","type":"nominal","scale":{"domain":["R","I","P"],"range":["#e8212b","#1e22d6","#000000"]},"legend":null},"strokeDash":{"field":"k","type":"nominal","scale":{"domain":["R","I","P"],"range":[[1,0],[1,0],[4,3]]},"legend":null}}},
{"data":{"name":"m"},"transform":[{"filter":"datum.p=='o'"}],"mark":{"type":"line","strokeWidth":1.2,"clip":true},"encoding":{"x":{"field":"x","type":"quantitative","scale":{"domain":[0,8]},"axis":{"orient":"bottom","values":[0,0.5,1,1.5,2,2.5,3,3.5,4,4.5,5,5.5,6,6.5,7,7.5,8],"labelExpr":"datum.value % 1 ? '' : '' + datum.value","title":"Frequency (THz)"}},"y":{"field":"y","type":"quantitative","scale":{"domain":[-16.5,17]},"axis":{"orient":"left","values":[-15,-10,-5,0,5,10,15],"labelExpr":"datum.value % 10 == 0 ? '' + datum.value : ''","title":null}},"color":{"field":"k","type":"nominal","scale":{"domain":["R","I","P"],"range":["#e8212b","#1e22d6","#000000"]},"legend":null},"strokeDash":{"field":"k","type":"nominal","scale":{"domain":["R","I","P"],"range":[[1,0],[1,0],[4,3]]},"legend":null}}},
{"data":{"values":[{}]},"mark":{"type":"text","align":"left","baseline":"top","font":"Liberation Serif","fontSize":12,"dx":3,"dy":3},"encoding":{"x":{"datum":0,"type":"quantitative","scale":{"domain":[0,8]},"axis":{"orient":"top","values":[0,0.5,1,1.5,2,2.5,3,3.5,4,4.5,5,5.5,6,6.5,7,7.5,8],"labels":false,"title":null}},"y":{"datum":17,"type":"quantitative","scale":{"domain":[-16.5,17]},"axis":{"orient":"right","values":[-15,-10,-5,0,5,10,15],"labels":false,"title":null}},"text":{"value":"(o)"}}}
],"resolve":{"axis":{"x":"independent","y":"independent"}}},
{"width":144,"height":97,"layer":[
{"data":{"name":"bands"},"transform":[{"filter":"datum.r==4"}],"mark":{"type":"rect","color":"#c8c8c8"},"encoding":{"x":{"field":"x0","type":"quantitative","scale":{"domain":[0,8]},"axis":null},"x2":{"field":"x1"}}},
{"data":{"name":"pk"},"mark":{"type":"line","strokeWidth":1.1,"clip":true},"encoding":{"x":{"field":"x","type":"quantitative","scale":{"domain":[0,8]},"axis":null},"y":{"field":"y","type":"quantitative","scale":{"domain":[-16.5,17]},"axis":null},"detail":{"field":"b"},"color":{"field":"k","type":"nominal","scale":{"domain":["R","I","P"],"range":["#e8212b","#1e22d6","#000000"]},"legend":null},"strokeDash":{"field":"k","type":"nominal","scale":{"domain":["R","I","P"],"range":[[1,0],[1,0],[4,3]]},"legend":null}}},
{"data":{"name":"m"},"transform":[{"filter":"datum.p=='p'"}],"mark":{"type":"line","strokeWidth":1.2,"clip":true},"encoding":{"x":{"field":"x","type":"quantitative","scale":{"domain":[0,8]},"axis":{"orient":"bottom","values":[0,0.5,1,1.5,2,2.5,3,3.5,4,4.5,5,5.5,6,6.5,7,7.5,8],"labelExpr":"datum.value % 1 ? '' : '' + datum.value","title":"Frequency (THz)"}},"y":{"field":"y","type":"quantitative","scale":{"domain":[-16.5,17]},"axis":{"orient":"left","values":[-15,-10,-5,0,5,10,15],"labelExpr":"datum.value % 10 == 0 ? '' + datum.value : ''","title":null}},"color":{"field":"k","type":"nominal","scale":{"domain":["R","I","P"],"range":["#e8212b","#1e22d6","#000000"]},"legend":null},"strokeDash":{"field":"k","type":"nominal","scale":{"domain":["R","I","P"],"range":[[1,0],[1,0],[4,3]]},"legend":null}}},
{"data":{"values":[{}]},"mark":{"type":"text","align":"left","baseline":"top","font":"Liberation Serif","fontSize":12,"dx":3,"dy":3},"encoding":{"x":{"datum":0,"type":"quantitative","scale":{"domain":[0,8]},"axis":{"orient":"top","values":[0,0.5,1,1.5,2,2.5,3,3.5,4,4.5,5,5.5,6,6.5,7,7.5,8],"labels":false,"title":null}},"y":{"datum":17,"type":"quantitative","scale":{"domain":[-16.5,17]},"axis":{"orient":"right","values":[-15,-10,-5,0,5,10,15],"labels":false,"title":null}},"text":{"value":"(p)"}}}
],"resolve":{"axis":{"x":"independent","y":"independent"}}}
],
"config":{"view":{"stroke":"#000","strokeWidth":1},"axis":{"grid":false,"domain":false,"tickColor":"#000","tickSize":-3,"tickWidth":1,"labelFont":"Liberation Serif","labelFontSize":12,"labelColor":"#000","labelPadding":4,"labelFlush":false,"labelOverlap":false,"titleFont":"Liberation Serif","titleFontSize":13,"titleFontWeight":"normal","titleColor":"#000","titlePadding":3},"legend":{"labelFont":"Liberation Serif","labelFontSize":12,"labelColor":"#000","rowPadding":0,"symbolType":"stroke","padding":0}}
}
